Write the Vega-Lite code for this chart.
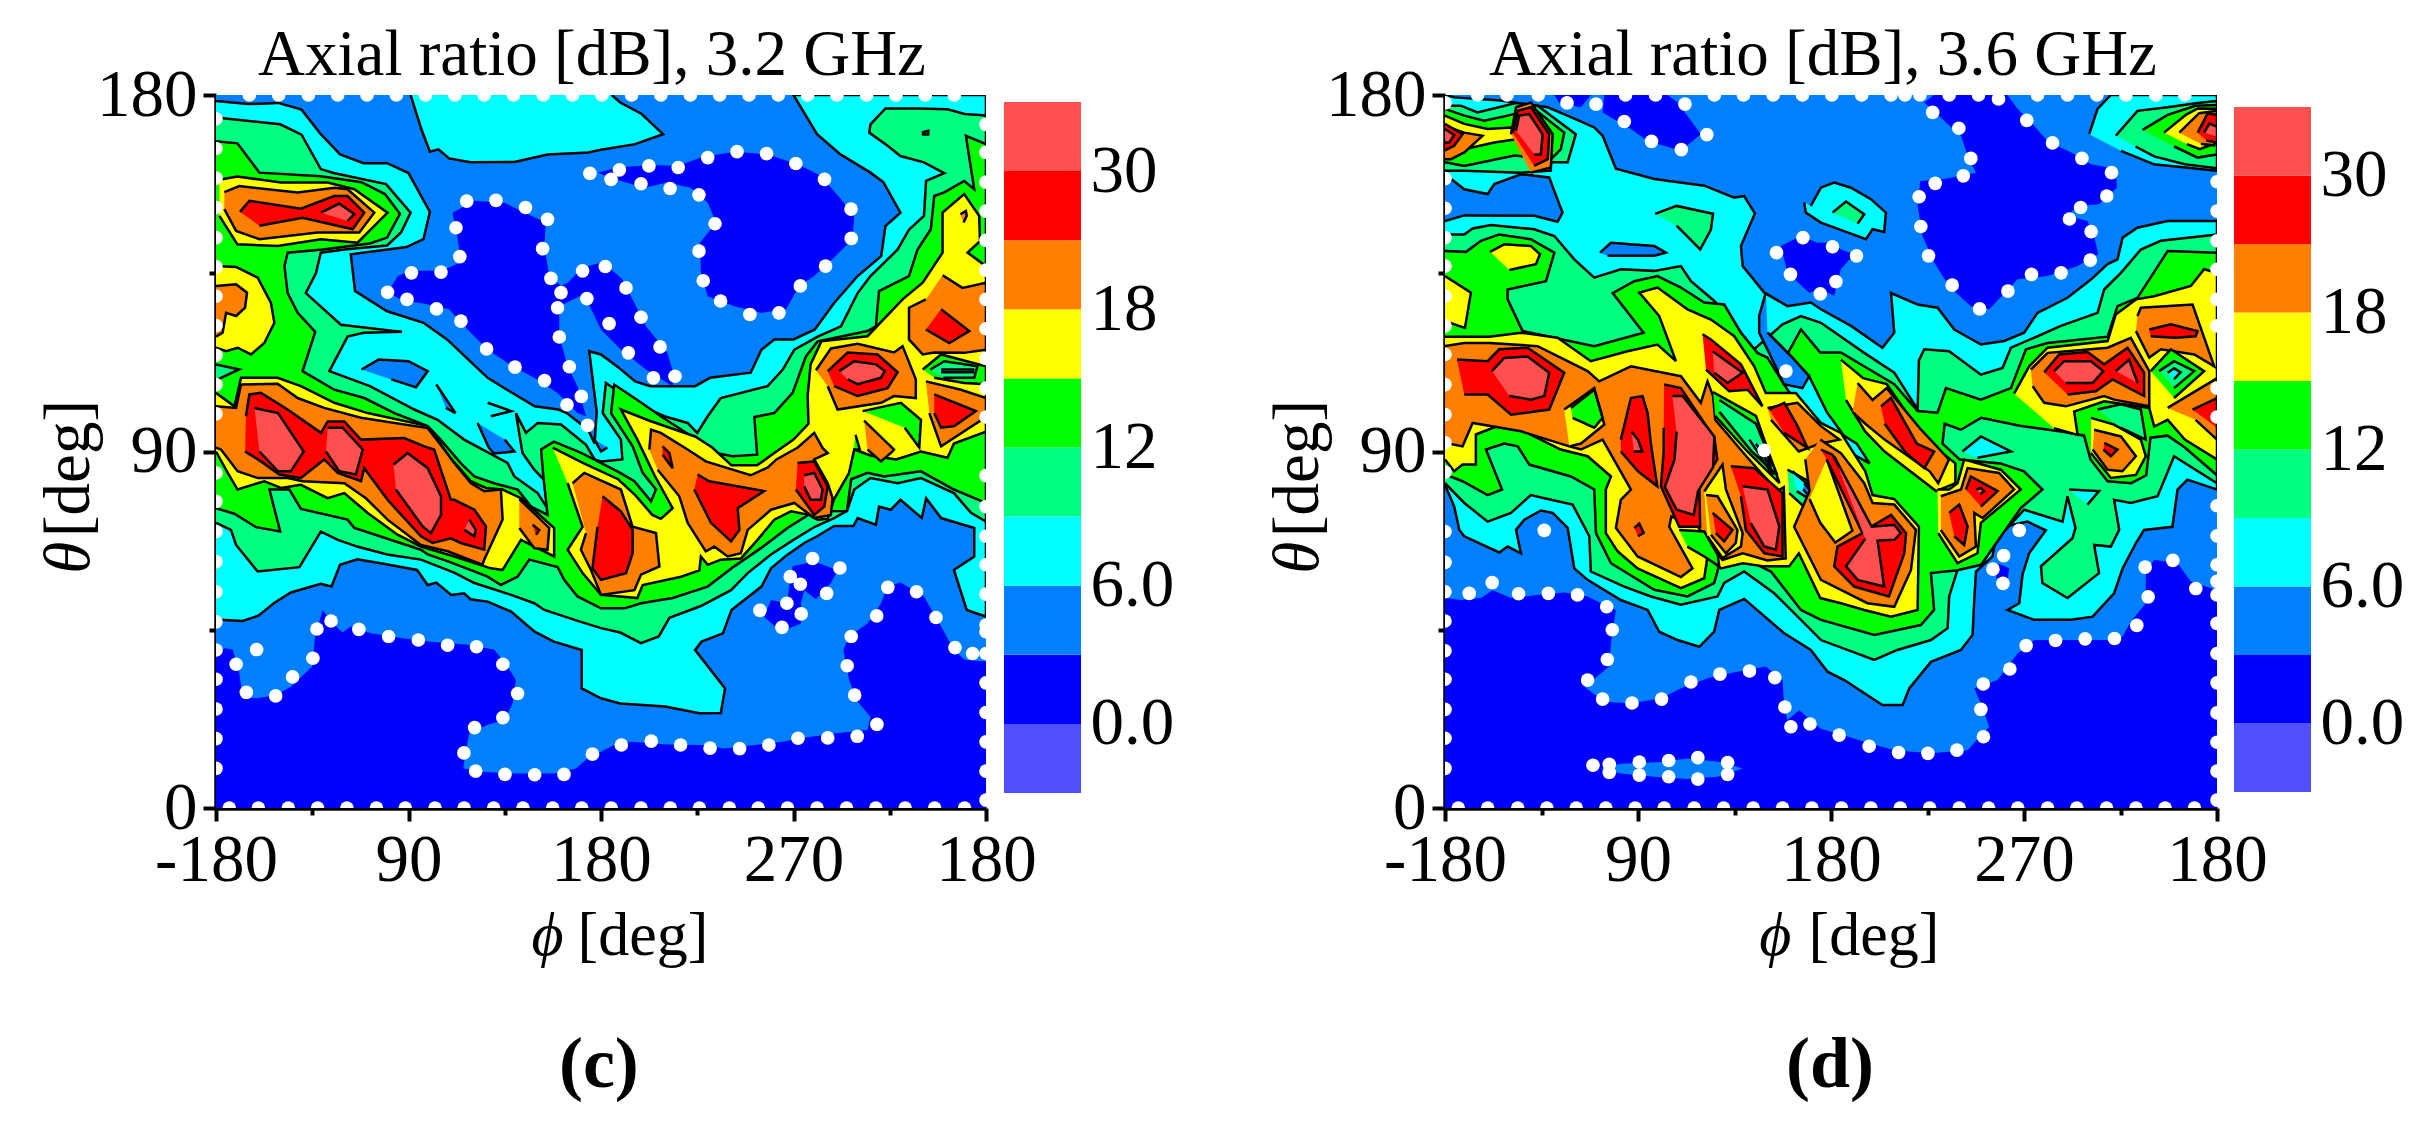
{"$schema":"https://vega.github.io/schema/vega-lite/v6.json","padding":{"left":36,"top":23,"right":0,"bottom":0},"background":"white","bounds":"flush","spacing":0,"config":{"view":{"stroke":null},"font":"Liberation Serif","axis":{"grid":false,"labelFont":"Liberation Serif","labelFontSize":67,"labelColor":"black","domainColor":"black","tickColor":"black","domainWidth":4.5,"tickWidth":4,"title":null,"labelFlush":false,"labelOverlap":false}},"datasets":{
"cb":[{"g":0,"l":2,"x":0,"y":0},{"g":0,"l":2,"x":360,"y":0},{"g":0,"l":2,"x":360,"y":180},{"g":0,"l":2,"x":0,"y":180},
{"g":1,"l":1,"x":0,"y":38.2},{"g":1,"l":1,"x":3.9,"y":40.3},{"g":1,"l":1,"x":7.8,"y":40},{"g":1,"l":1,"x":10.9,"y":34},{"g":1,"l":1,"x":12.5,"y":28},{"g":1,"l":1,"x":19.5,"y":27.7},{"g":1,"l":1,"x":28,"y":28.5},{"g":1,"l":1,"x":35,"y":30.6},{"g":1,"l":1,"x":45,"y":35.7},{"g":1,"l":1,"x":46.3,"y":43.3},{"g":1,"l":1,"x":49.9,"y":50},{"g":1,"l":1,"x":53.8,"y":47},{"g":1,"l":1,"x":59.2,"y":44.3},{"g":1,"l":1,"x":63,"y":45.8},{"g":1,"l":1,"x":72.4,"y":44.1},{"g":1,"l":1,"x":88,"y":42.8},{"g":1,"l":1,"x":100.5,"y":42},{"g":1,"l":1,"x":117.6,"y":41.2},{"g":1,"l":1,"x":130,"y":40},{"g":1,"l":1,"x":136.3,"y":35.7},{"g":1,"l":1,"x":140.2,"y":32.3},{"g":1,"l":1,"x":138.7,"y":26.4},{"g":1,"l":1,"x":134.8,"y":22.2},{"g":1,"l":1,"x":127,"y":21},{"g":1,"l":1,"x":118.4,"y":18.8},{"g":1,"l":1,"x":116.8,"y":14.6},{"g":1,"l":1,"x":115.6,"y":10},{"g":1,"l":1,"x":125.4,"y":9.1},{"g":1,"l":1,"x":139.4,"y":8.7},{"g":1,"l":1,"x":158.1,"y":8.7},{"g":1,"l":1,"x":168.3,"y":10},{"g":1,"l":1,"x":173.7,"y":12.5},{"g":1,"l":1,"x":186.2,"y":15.9},{"g":1,"l":1,"x":194,"y":16.7},{"g":1,"l":1,"x":211,"y":16},{"g":1,"l":1,"x":226.7,"y":15.9},{"g":1,"l":1,"x":237.6,"y":15},{"g":1,"l":1,"x":251.7,"y":15.9},{"g":1,"l":1,"x":265,"y":16.7},{"g":1,"l":1,"x":273.5,"y":17.6},{"g":1,"l":1,"x":289,"y":18.8},{"g":1,"l":1,"x":304.6,"y":19.7},{"g":1,"l":1,"x":306,"y":23},{"g":1,"l":1,"x":300,"y":26.8},{"g":1,"l":1,"x":296,"y":32.3},{"g":1,"l":1,"x":293.3,"y":39.9},{"g":1,"l":1,"x":296,"y":43.3},{"g":1,"l":1,"x":304.6,"y":46.6},{"g":1,"l":1,"x":310.9,"y":51.7},{"g":1,"l":1,"x":314,"y":55.9},{"g":1,"l":1,"x":320,"y":56.9},{"g":1,"l":1,"x":331,"y":53.4},{"g":1,"l":1,"x":339,"y":45.8},{"g":1,"l":1,"x":345,"y":39.9},{"g":1,"l":1,"x":350,"y":37.4},{"g":1,"l":1,"x":360,"y":37},{"g":1,"l":1,"x":360,"y":0},{"g":1,"l":1,"x":0,"y":0},
{"g":2,"l":1,"x":269.6,"y":61},{"g":2,"l":1,"x":279.7,"y":62.2},{"g":2,"l":1,"x":290.6,"y":60},{"g":2,"l":1,"x":287.5,"y":56.8},{"g":2,"l":1,"x":280.5,"y":52.7},{"g":2,"l":1,"x":275,"y":55},{"g":2,"l":1,"x":273.5,"y":51.7},{"g":2,"l":1,"x":273.5,"y":46.6},{"g":2,"l":1,"x":264,"y":44.5},{"g":2,"l":1,"x":256.3,"y":48.3},{"g":2,"l":1,"x":259.5,"y":52.5},{"g":2,"l":1,"x":267,"y":51.7},{"g":2,"l":1,"x":268,"y":55.9},
{"g":3,"l":1,"x":110.6,"y":150.3},{"g":3,"l":1,"x":120.7,"y":153.3},{"g":3,"l":1,"x":134.8,"y":152.8},{"g":3,"l":1,"x":142.6,"y":150.7},{"g":3,"l":1,"x":154.2,"y":147.8},{"g":3,"l":1,"x":153.5,"y":141.9},{"g":3,"l":1,"x":155.8,"y":134.3},{"g":3,"l":1,"x":161.3,"y":131.8},{"g":3,"l":1,"x":164.4,"y":132.6},{"g":3,"l":1,"x":171.4,"y":136.4},{"g":3,"l":1,"x":180,"y":137.7},{"g":3,"l":1,"x":184.7,"y":136},{"g":3,"l":1,"x":190,"y":133.5},{"g":3,"l":1,"x":195.6,"y":127.5},{"g":3,"l":1,"x":201,"y":121.6},{"g":3,"l":1,"x":211,"y":114.9},{"g":3,"l":1,"x":214.3,"y":109},{"g":3,"l":1,"x":213.5,"y":106.5},{"g":3,"l":1,"x":201,"y":110.7},{"g":3,"l":1,"x":189.3,"y":115.7},{"g":3,"l":1,"x":180,"y":120.8},{"g":3,"l":1,"x":172,"y":129.7},{"g":3,"l":1,"x":160.5,"y":126.7},{"g":3,"l":1,"x":160.5,"y":119.1},{"g":3,"l":1,"x":164.4,"y":111.5},{"g":3,"l":1,"x":169,"y":106.5},{"g":3,"l":1,"x":173,"y":98.9},{"g":3,"l":1,"x":169,"y":99.7},{"g":3,"l":1,"x":159.7,"y":104.8},{"g":3,"l":1,"x":148.8,"y":108.6},{"g":3,"l":1,"x":138.7,"y":111.5},{"g":3,"l":1,"x":127,"y":115.7},{"g":3,"l":1,"x":117.6,"y":120.8},{"g":3,"l":1,"x":109,"y":125.9},{"g":3,"l":1,"x":95.8,"y":127.5},{"g":3,"l":1,"x":88,"y":128},{"g":3,"l":1,"x":80.2,"y":130.1},{"g":3,"l":1,"x":85,"y":134.3},{"g":3,"l":1,"x":91.2,"y":135.6},{"g":3,"l":1,"x":105.2,"y":135.6},{"g":3,"l":1,"x":114.5,"y":137.7},{"g":3,"l":1,"x":113,"y":143.6},
{"g":4,"l":1,"x":178.4,"y":160.4},{"g":4,"l":1,"x":187.8,"y":161.7},{"g":4,"l":1,"x":203.4,"y":162.3},{"g":4,"l":1,"x":215.8,"y":162.1},{"g":4,"l":1,"x":226.7,"y":164.2},{"g":4,"l":1,"x":242.3,"y":165.7},{"g":4,"l":1,"x":257.9,"y":165},{"g":4,"l":1,"x":271.9,"y":162.5},{"g":4,"l":1,"x":282.8,"y":159.6},{"g":4,"l":1,"x":292.2,"y":153.7},{"g":4,"l":1,"x":298.4,"y":149.5},{"g":4,"l":1,"x":297.6,"y":143.6},{"g":4,"l":1,"x":289,"y":139},{"g":4,"l":1,"x":279.7,"y":134.3},{"g":4,"l":1,"x":272.7,"y":131.8},{"g":4,"l":1,"x":266.5,"y":125.9},{"g":4,"l":1,"x":254.8,"y":125},{"g":4,"l":1,"x":242.3,"y":126.7},{"g":4,"l":1,"x":229.9,"y":129.2},{"g":4,"l":1,"x":226.7,"y":135.1},{"g":4,"l":1,"x":226.3,"y":142.7},{"g":4,"l":1,"x":233.8,"y":147.8},{"g":4,"l":1,"x":229.9,"y":152.8},{"g":4,"l":1,"x":222,"y":156.6},{"g":4,"l":1,"x":211,"y":157.9},{"g":4,"l":1,"x":200.3,"y":156.6},{"g":4,"l":1,"x":189.3,"y":158.3}],
"cs":[{"g":1,"l":3,"x":0,"y":178.5},{"g":1,"l":3,"x":15,"y":177.7},{"g":1,"l":3,"x":29,"y":178},{"g":1,"l":3,"x":40,"y":176.3},{"g":1,"l":3,"x":49,"y":170.1},{"g":1,"l":3,"x":58,"y":165},{"g":1,"l":3,"x":69,"y":162.8},{"g":1,"l":3,"x":80,"y":162.8},{"g":1,"l":3,"x":90,"y":160.3},{"g":1,"l":3,"x":100,"y":150.5},{"g":1,"l":3,"x":97,"y":143.6},{"g":1,"l":3,"x":89,"y":141.6},{"g":1,"l":3,"x":63,"y":139.8},{"g":1,"l":3,"x":65,"y":130.5},{"g":1,"l":3,"x":80,"y":125.4},{"g":1,"l":3,"x":97,"y":122.5},{"g":1,"l":3,"x":108,"y":118.3},{"g":1,"l":3,"x":118,"y":113.2},{"g":1,"l":3,"x":127,"y":108.6},{"g":1,"l":3,"x":136,"y":105.6},{"g":1,"l":3,"x":149,"y":101.4},{"g":1,"l":3,"x":160,"y":100.6},{"g":1,"l":3,"x":164,"y":99.7},{"g":1,"l":3,"x":174,"y":95.5},{"g":1,"l":3,"x":177,"y":92},{"g":1,"l":3,"x":178,"y":100},{"g":1,"l":3,"x":174.5,"y":115.3},{"g":1,"l":3,"x":180,"y":114.5},{"g":1,"l":3,"x":188,"y":111.3},{"g":1,"l":3,"x":196,"y":107.7},{"g":1,"l":3,"x":203,"y":106.5},{"g":1,"l":3,"x":213,"y":106.5},{"g":1,"l":3,"x":224,"y":106.5},{"g":1,"l":3,"x":231,"y":108.6},{"g":1,"l":3,"x":250,"y":109.9},{"g":1,"l":3,"x":255,"y":115.7},{"g":1,"l":3,"x":261,"y":118.3},{"g":1,"l":3,"x":270,"y":118.3},{"g":1,"l":3,"x":280,"y":120.8},{"g":1,"l":3,"x":289,"y":127.5},{"g":1,"l":3,"x":300,"y":134.3},{"g":1,"l":3,"x":311,"y":139.3},{"g":1,"l":3,"x":313,"y":146.9},{"g":1,"l":3,"x":320,"y":150.3},{"g":1,"l":3,"x":312,"y":158},{"g":1,"l":3,"x":306,"y":160.4},{"g":1,"l":3,"x":292,"y":165},{"g":1,"l":3,"x":281,"y":170.1},{"g":1,"l":3,"x":270,"y":180},{"g":1,"l":3,"x":360,"y":180},{"g":1,"l":3,"x":360,"y":48.3},{"g":1,"l":3,"x":351,"y":50},{"g":1,"l":3,"x":345,"y":60.1},{"g":1,"l":3,"x":354.5,"y":63.5},{"g":1,"l":3,"x":354.5,"y":70.7},{"g":1,"l":3,"x":339,"y":73.2},{"g":1,"l":3,"x":332,"y":78.2},{"g":1,"l":3,"x":330,"y":73.2},{"g":1,"l":3,"x":320,"y":77.8},{"g":1,"l":3,"x":315.5,"y":75.3},{"g":1,"l":3,"x":310,"y":76.1},{"g":1,"l":3,"x":308.5,"y":71.5},{"g":1,"l":3,"x":300,"y":73.2},{"g":1,"l":3,"x":298,"y":71.2},{"g":1,"l":3,"x":289,"y":71.2},{"g":1,"l":3,"x":281,"y":68.6},{"g":1,"l":3,"x":275,"y":66.9},{"g":1,"l":3,"x":267,"y":63.9},{"g":1,"l":3,"x":259.5,"y":60.5},{"g":1,"l":3,"x":255,"y":55.9},{"g":1,"l":3,"x":241,"y":50},{"g":1,"l":3,"x":237,"y":44.1},{"g":1,"l":3,"x":227,"y":42},{"g":1,"l":3,"x":224,"y":39.9},{"g":1,"l":3,"x":238,"y":30.2},{"g":1,"l":3,"x":236,"y":24},{"g":1,"l":3,"x":226,"y":23.9},{"g":1,"l":3,"x":210,"y":25.6},{"g":1,"l":3,"x":189,"y":26.4},{"g":1,"l":3,"x":180,"y":27.7},{"g":1,"l":3,"x":171,"y":30.2},{"g":1,"l":3,"x":171,"y":39.9},{"g":1,"l":3,"x":158,"y":42},{"g":1,"l":3,"x":149,"y":44.5},{"g":1,"l":3,"x":138,"y":49.6},{"g":1,"l":3,"x":127,"y":52.1},{"g":1,"l":3,"x":119,"y":52.7},{"g":1,"l":3,"x":116,"y":54.2},{"g":1,"l":3,"x":110,"y":53.8},{"g":1,"l":3,"x":103,"y":56.9},{"g":1,"l":3,"x":99,"y":56.3},{"g":1,"l":3,"x":94,"y":60.1},{"g":1,"l":3,"x":79,"y":61.6},{"g":1,"l":3,"x":66,"y":62.8},{"g":1,"l":3,"x":58,"y":61.4},{"g":1,"l":3,"x":54,"y":55.9},{"g":1,"l":3,"x":49,"y":56.6},{"g":1,"l":3,"x":35,"y":54.4},{"g":1,"l":3,"x":27,"y":51.7},{"g":1,"l":3,"x":20,"y":48.6},{"g":1,"l":3,"x":12.5,"y":47.2},{"g":1,"l":3,"x":0,"y":47.6},
{"g":2,"l":3,"x":91,"y":180},{"g":2,"l":3,"x":96,"y":171.4},{"g":2,"l":3,"x":100,"y":165.7},{"g":2,"l":3,"x":104,"y":166.3},{"g":2,"l":3,"x":109,"y":164},{"g":2,"l":3,"x":119,"y":163},{"g":2,"l":3,"x":139.5,"y":163.1},{"g":2,"l":3,"x":155,"y":165},{"g":2,"l":3,"x":174,"y":165.5},{"g":2,"l":3,"x":180,"y":166.2},{"g":2,"l":3,"x":196,"y":167.6},{"g":2,"l":3,"x":209,"y":170.1},{"g":2,"l":3,"x":199,"y":175.2},{"g":2,"l":3,"x":189,"y":178.1},{"g":2,"l":3,"x":185,"y":180},
{"g":3,"l":2,"x":68,"y":110.7},{"g":3,"l":2,"x":76,"y":113.2},{"g":3,"l":2,"x":90,"y":112.8},{"g":3,"l":2,"x":99,"y":110.3},{"g":3,"l":2,"x":93.5,"y":106.2},{"g":3,"l":2,"x":82,"y":108.2},
{"g":4,"l":2,"x":103,"y":106.9},{"g":4,"l":2,"x":112,"y":99.7},{"g":4,"l":2,"x":107.5,"y":101},
{"g":5,"l":2,"x":122.3,"y":97.2},{"g":5,"l":2,"x":127.5,"y":91},{"g":5,"l":2,"x":130,"y":89.5},{"g":5,"l":2,"x":139.5,"y":90},{"g":5,"l":2,"x":135,"y":93},
{"g":6,"l":2,"x":177,"y":93},{"g":6,"l":2,"x":180,"y":90},{"g":6,"l":2,"x":183,"y":91},
{"g":7,"l":4,"x":0,"y":174.3},{"g":7,"l":4,"x":30,"y":172.6},{"g":7,"l":4,"x":40,"y":170},{"g":7,"l":4,"x":49,"y":161.3},{"g":7,"l":4,"x":55,"y":160.3},{"g":7,"l":4,"x":79.5,"y":157.5},{"g":7,"l":4,"x":91,"y":150.3},{"g":7,"l":4,"x":86.5,"y":145.3},{"g":7,"l":4,"x":80,"y":142},{"g":7,"l":4,"x":60,"y":141},{"g":7,"l":4,"x":49,"y":140.2},{"g":7,"l":4,"x":46.7,"y":135},{"g":7,"l":4,"x":42,"y":130},{"g":7,"l":4,"x":58.4,"y":122},{"g":7,"l":4,"x":87,"y":120.2},{"g":7,"l":4,"x":69,"y":120},{"g":7,"l":4,"x":61.5,"y":119},{"g":7,"l":4,"x":53,"y":110.3},{"g":7,"l":4,"x":72,"y":106.5},{"g":7,"l":4,"x":92.7,"y":100.6},{"g":7,"l":4,"x":103.6,"y":98},{"g":7,"l":4,"x":116,"y":93},{"g":7,"l":4,"x":136.3,"y":87.1},{"g":7,"l":4,"x":139.5,"y":83.7},{"g":7,"l":4,"x":150.4,"y":79.5},{"g":7,"l":4,"x":153.8,"y":76.6},{"g":7,"l":4,"x":157.8,"y":80.4},{"g":7,"l":4,"x":148.8,"y":85.4},{"g":7,"l":4,"x":143.3,"y":89.6},{"g":7,"l":4,"x":140.2,"y":99.7},{"g":7,"l":4,"x":144.9,"y":94.7},{"g":7,"l":4,"x":150.4,"y":97.2},{"g":7,"l":4,"x":161.3,"y":96.8},{"g":7,"l":4,"x":173,"y":91.7},{"g":7,"l":4,"x":177,"y":88},{"g":7,"l":4,"x":180,"y":87.5},{"g":7,"l":4,"x":190,"y":88},{"g":7,"l":4,"x":189.3,"y":93},{"g":7,"l":4,"x":180.8,"y":99.7},{"g":7,"l":4,"x":182.3,"y":107.3},{"g":7,"l":4,"x":195.6,"y":102.3},{"g":7,"l":4,"x":209.6,"y":98.9},{"g":7,"l":4,"x":220.5,"y":97.2},{"g":7,"l":4,"x":225,"y":94.7},{"g":7,"l":4,"x":229.9,"y":98.9},{"g":7,"l":4,"x":236,"y":103.5},{"g":7,"l":4,"x":257.9,"y":106.5},{"g":7,"l":4,"x":265,"y":110.7},{"g":7,"l":4,"x":270.4,"y":115.7},{"g":7,"l":4,"x":281.3,"y":119},{"g":7,"l":4,"x":292.2,"y":121.6},{"g":7,"l":4,"x":300,"y":130},{"g":7,"l":4,"x":306,"y":134.3},{"g":7,"l":4,"x":318.7,"y":141},{"g":7,"l":4,"x":324,"y":146},{"g":7,"l":4,"x":331,"y":149.5},{"g":7,"l":4,"x":332,"y":158.3},{"g":7,"l":4,"x":340.5,"y":160.3},{"g":7,"l":4,"x":331,"y":163},{"g":7,"l":4,"x":320,"y":164.6},{"g":7,"l":4,"x":314,"y":167.2},{"g":7,"l":4,"x":305.4,"y":170.5},{"g":7,"l":4,"x":306,"y":172.6},{"g":7,"l":4,"x":313,"y":176.6},{"g":7,"l":4,"x":328,"y":176.6},{"g":7,"l":4,"x":342,"y":176.4},{"g":7,"l":4,"x":350,"y":175.2},{"g":7,"l":4,"x":360,"y":174.8},{"g":7,"l":4,"x":360,"y":72.3},{"g":7,"l":4,"x":353,"y":74.5},{"g":7,"l":4,"x":345,"y":79.5},{"g":7,"l":4,"x":329.6,"y":83.3},{"g":7,"l":4,"x":318.7,"y":82},{"g":7,"l":4,"x":306,"y":83.3},{"g":7,"l":4,"x":298.4,"y":80.4},{"g":7,"l":4,"x":295,"y":75},{"g":7,"l":4,"x":289,"y":73.2},{"g":7,"l":4,"x":280,"y":71},{"g":7,"l":4,"x":270,"y":67.7},{"g":7,"l":4,"x":259.5,"y":64},{"g":7,"l":4,"x":248.6,"y":59.3},{"g":7,"l":4,"x":240.8,"y":55},{"g":7,"l":4,"x":226.7,"y":51},{"g":7,"l":4,"x":212,"y":48},{"g":7,"l":4,"x":207,"y":43.3},{"g":7,"l":4,"x":198.7,"y":41.6},{"g":7,"l":4,"x":189,"y":44.3},{"g":7,"l":4,"x":180,"y":45.4},{"g":7,"l":4,"x":170.6,"y":47},{"g":7,"l":4,"x":153.5,"y":50},{"g":7,"l":4,"x":148.8,"y":51.7},{"g":7,"l":4,"x":138,"y":53.8},{"g":7,"l":4,"x":120.8,"y":56.8},{"g":7,"l":4,"x":111.4,"y":59.4},{"g":7,"l":4,"x":95.8,"y":62.7},{"g":7,"l":4,"x":80,"y":64},{"g":7,"l":4,"x":66,"y":66},{"g":7,"l":4,"x":57,"y":67.7},{"g":7,"l":4,"x":49,"y":69.8},{"g":7,"l":4,"x":39,"y":60.8},{"g":7,"l":4,"x":19.5,"y":59.7},{"g":7,"l":4,"x":9.4,"y":66.4},{"g":7,"l":4,"x":7,"y":70.2},{"g":7,"l":4,"x":0,"y":72},
{"g":8,"l":3,"x":127,"y":102.3},{"g":8,"l":3,"x":138,"y":100.2},{"g":8,"l":3,"x":128.5,"y":98.9},
{"g":9,"l":5,"x":0,"y":168.3},{"g":9,"l":5,"x":10,"y":167.8},{"g":9,"l":5,"x":20.3,"y":160.4},{"g":9,"l":5,"x":49,"y":159.5},{"g":9,"l":5,"x":68,"y":158},{"g":9,"l":5,"x":79,"y":155},{"g":9,"l":5,"x":86,"y":150},{"g":9,"l":5,"x":80,"y":144},{"g":9,"l":5,"x":72,"y":142.5},{"g":9,"l":5,"x":50,"y":141},{"g":9,"l":5,"x":33.5,"y":140.2},{"g":9,"l":5,"x":32,"y":136.8},{"g":9,"l":5,"x":33.5,"y":130},{"g":9,"l":5,"x":38.2,"y":125},{"g":9,"l":5,"x":46.4,"y":120.2},{"g":9,"l":5,"x":40.5,"y":110.3},{"g":9,"l":5,"x":55.3,"y":105.6},{"g":9,"l":5,"x":69.3,"y":103.5},{"g":9,"l":5,"x":83.4,"y":99.7},{"g":9,"l":5,"x":99,"y":96.4},{"g":9,"l":5,"x":105,"y":93},{"g":9,"l":5,"x":114.5,"y":87},{"g":9,"l":5,"x":120.8,"y":83.7},{"g":9,"l":5,"x":130,"y":82},{"g":9,"l":5,"x":141,"y":80.4},{"g":9,"l":5,"x":147.3,"y":76.1},{"g":9,"l":5,"x":155,"y":74},{"g":9,"l":5,"x":153,"y":84},{"g":9,"l":5,"x":152,"y":90.5},{"g":9,"l":5,"x":158,"y":92.5},{"g":9,"l":5,"x":171,"y":89.6},{"g":9,"l":5,"x":189,"y":84.6},{"g":9,"l":5,"x":195.6,"y":82.5},{"g":9,"l":5,"x":203.4,"y":77.4},{"g":9,"l":5,"x":205.7,"y":80.4},{"g":9,"l":5,"x":199.5,"y":84.6},{"g":9,"l":5,"x":194.8,"y":91.3},{"g":9,"l":5,"x":184.7,"y":99.7},{"g":9,"l":5,"x":186.2,"y":106.9},{"g":9,"l":5,"x":197,"y":103},{"g":9,"l":5,"x":209,"y":98.5},{"g":9,"l":5,"x":222,"y":94},{"g":9,"l":5,"x":230,"y":90},{"g":9,"l":5,"x":241.5,"y":88.8},{"g":9,"l":5,"x":253,"y":89.2},{"g":9,"l":5,"x":251.7,"y":98.7},{"g":9,"l":5,"x":261,"y":99.7},{"g":9,"l":5,"x":269.6,"y":104.8},{"g":9,"l":5,"x":275.8,"y":114},{"g":9,"l":5,"x":281.3,"y":117.8},{"g":9,"l":5,"x":304.6,"y":120.4},{"g":9,"l":5,"x":308.5,"y":121.6},{"g":9,"l":5,"x":310,"y":130.5},{"g":9,"l":5,"x":324,"y":134.3},{"g":9,"l":5,"x":328,"y":141},{"g":9,"l":5,"x":334.2,"y":146.1},{"g":9,"l":5,"x":335.8,"y":154.5},{"g":9,"l":5,"x":340.5,"y":155.4},{"g":9,"l":5,"x":349.8,"y":158.3},{"g":9,"l":5,"x":354.5,"y":156.2},{"g":9,"l":5,"x":350.6,"y":169.7},{"g":9,"l":5,"x":360,"y":167.6},{"g":9,"l":5,"x":360,"y":77},{"g":9,"l":5,"x":345,"y":80.4},{"g":9,"l":5,"x":329.6,"y":85},{"g":9,"l":5,"x":312.4,"y":83.7},{"g":9,"l":5,"x":304.6,"y":84.6},{"g":9,"l":5,"x":297,"y":83},{"g":9,"l":5,"x":295,"y":75},{"g":9,"l":5,"x":279.7,"y":74.9},{"g":9,"l":5,"x":267.2,"y":70.7},{"g":9,"l":5,"x":254.8,"y":65.6},{"g":9,"l":5,"x":242.3,"y":61},{"g":9,"l":5,"x":229.9,"y":55.9},{"g":9,"l":5,"x":213.5,"y":53},{"g":9,"l":5,"x":198.7,"y":51.7},{"g":9,"l":5,"x":191,"y":50.4},{"g":9,"l":5,"x":180,"y":50.4},{"g":9,"l":5,"x":169,"y":53.4},{"g":9,"l":5,"x":162.8,"y":57.6},{"g":9,"l":5,"x":159.7,"y":60.8},{"g":9,"l":5,"x":146.5,"y":62.7},{"g":9,"l":5,"x":141,"y":58.4},{"g":9,"l":5,"x":133.2,"y":56.3},{"g":9,"l":5,"x":127,"y":58.4},{"g":9,"l":5,"x":109.8,"y":62},{"g":9,"l":5,"x":99,"y":64},{"g":9,"l":5,"x":95.8,"y":65.2},{"g":9,"l":5,"x":64.7,"y":70.7},{"g":9,"l":5,"x":61.5,"y":72.8},{"g":9,"l":5,"x":39.7,"y":75.5},{"g":9,"l":5,"x":34.3,"y":80.4},{"g":9,"l":5,"x":25,"y":80.4},{"g":9,"l":5,"x":30,"y":69.8},{"g":9,"l":5,"x":18.7,"y":70.9},{"g":9,"l":5,"x":8.6,"y":74.3},{"g":9,"l":5,"x":0,"y":75.7},
{"g":10,"l":4,"x":0,"y":112},{"g":10,"l":4,"x":10.9,"y":110.7},{"g":10,"l":4,"x":0,"y":108},
{"g":11,"l":6,"x":1.6,"y":158.6},{"g":11,"l":6,"x":10,"y":159.4},{"g":11,"l":6,"x":30.4,"y":157.9},{"g":11,"l":6,"x":52.2,"y":157.9},{"g":11,"l":6,"x":64.7,"y":156.2},{"g":11,"l":6,"x":80.2,"y":150.3},{"g":11,"l":6,"x":72.4,"y":146.1},{"g":11,"l":6,"x":66.2,"y":142.7},{"g":11,"l":6,"x":49,"y":143.6},{"g":11,"l":6,"x":28.8,"y":141.9},{"g":11,"l":6,"x":10,"y":142.3},{"g":11,"l":6,"x":1.6,"y":149.5},
{"g":12,"l":7,"x":3.9,"y":155.5},{"g":12,"l":7,"x":10.9,"y":157},{"g":12,"l":7,"x":38.2,"y":155.4},{"g":12,"l":7,"x":55.3,"y":156.6},{"g":12,"l":7,"x":61.5,"y":156.2},{"g":12,"l":7,"x":74,"y":150.3},{"g":12,"l":7,"x":67,"y":145.3},{"g":12,"l":7,"x":47.5,"y":145.3},{"g":12,"l":7,"x":20.3,"y":143.6},{"g":12,"l":7,"x":9.4,"y":145.7},{"g":12,"l":7,"x":3.9,"y":151.2},
{"g":13,"l":8,"x":11.2,"y":150.5},{"g":13,"l":8,"x":15.6,"y":153.3},{"g":13,"l":8,"x":39.7,"y":151.3},{"g":13,"l":8,"x":55.3,"y":154.5},{"g":13,"l":8,"x":61.5,"y":154.5},{"g":13,"l":8,"x":69.3,"y":150.3},{"g":13,"l":8,"x":63.9,"y":146.1},{"g":13,"l":8,"x":40.5,"y":149},{"g":13,"l":8,"x":20.3,"y":147},
{"g":14,"l":9,"x":49.1,"y":150.3},{"g":14,"l":9,"x":57.6,"y":152.6},{"g":14,"l":9,"x":64.7,"y":149.9},{"g":14,"l":9,"x":61.5,"y":148.2},
{"g":15,"l":6,"x":0,"y":136.8},{"g":15,"l":6,"x":9.4,"y":136.6},{"g":15,"l":6,"x":19.5,"y":133.9},{"g":15,"l":6,"x":25.7,"y":127.5},{"g":15,"l":6,"x":27.3,"y":122.5},{"g":15,"l":6,"x":22.6,"y":117.4},{"g":15,"l":6,"x":16.4,"y":114.5},{"g":15,"l":6,"x":10.1,"y":116.2},{"g":15,"l":6,"x":4.7,"y":115.3},{"g":15,"l":6,"x":0,"y":116.2},
{"g":16,"l":7,"x":0,"y":131.8},{"g":16,"l":7,"x":9.4,"y":132.2},{"g":16,"l":7,"x":14.5,"y":130.1},{"g":16,"l":7,"x":13.6,"y":126.3},{"g":16,"l":7,"x":9.4,"y":124.2},{"g":16,"l":7,"x":4.7,"y":125},{"g":16,"l":7,"x":3.1,"y":120},{"g":16,"l":7,"x":0,"y":119},
{"g":17,"l":6,"x":0,"y":104.8},{"g":17,"l":6,"x":8.6,"y":101.4},{"g":17,"l":6,"x":11.7,"y":108.6},{"g":17,"l":6,"x":28.8,"y":108.6},{"g":17,"l":6,"x":39.7,"y":106.5},{"g":17,"l":6,"x":55.3,"y":102.3},{"g":17,"l":6,"x":70.9,"y":99.7},{"g":17,"l":6,"x":95.8,"y":96.8},{"g":17,"l":6,"x":103.6,"y":93},{"g":17,"l":6,"x":109,"y":88.8},{"g":17,"l":6,"x":119.2,"y":82.5},{"g":17,"l":6,"x":126.2,"y":80.8},{"g":17,"l":6,"x":134,"y":80.4},{"g":17,"l":6,"x":142.6,"y":78.2},{"g":17,"l":6,"x":158.1,"y":70.7},{"g":17,"l":6,"x":158.1,"y":63.5},{"g":17,"l":6,"x":142.6,"y":67.7},{"g":17,"l":6,"x":134,"y":60.1},{"g":17,"l":6,"x":128.5,"y":60.5},{"g":17,"l":6,"x":111.4,"y":63.5},{"g":17,"l":6,"x":95.8,"y":66},{"g":17,"l":6,"x":84.9,"y":69},{"g":17,"l":6,"x":70.9,"y":74.5},{"g":17,"l":6,"x":60,"y":79.5},{"g":17,"l":6,"x":52.2,"y":78.2},{"g":17,"l":6,"x":39.7,"y":81.6},{"g":17,"l":6,"x":30.4,"y":80.8},{"g":17,"l":6,"x":22.6,"y":82.5},{"g":17,"l":6,"x":10.1,"y":80.4},{"g":17,"l":6,"x":5.5,"y":84.6},{"g":17,"l":6,"x":0,"y":90},
{"g":18,"l":7,"x":0,"y":101.4},{"g":18,"l":7,"x":9.4,"y":101},{"g":18,"l":7,"x":11.7,"y":106.9},{"g":18,"l":7,"x":28.8,"y":107.1},{"g":18,"l":7,"x":38.2,"y":103.5},{"g":18,"l":7,"x":50.6,"y":101},{"g":18,"l":7,"x":67.8,"y":98.5},{"g":18,"l":7,"x":99,"y":95.9},{"g":18,"l":7,"x":106.7,"y":90.5},{"g":18,"l":7,"x":111.4,"y":87.1},{"g":18,"l":7,"x":119.2,"y":82},{"g":18,"l":7,"x":125.4,"y":80},{"g":18,"l":7,"x":133.2,"y":80.4},{"g":18,"l":7,"x":134,"y":72.8},{"g":18,"l":7,"x":125.4,"y":62.7},{"g":18,"l":7,"x":124.6,"y":61.4},{"g":18,"l":7,"x":108.3,"y":64.8},{"g":18,"l":7,"x":95.8,"y":66.4},{"g":18,"l":7,"x":80.2,"y":72.8},{"g":18,"l":7,"x":70.1,"y":78.2},{"g":18,"l":7,"x":60,"y":82},{"g":18,"l":7,"x":40.5,"y":82.5},{"g":18,"l":7,"x":33.5,"y":83.3},{"g":18,"l":7,"x":19.5,"y":83.3},{"g":18,"l":7,"x":10.1,"y":85},{"g":18,"l":7,"x":2.3,"y":90.5},{"g":18,"l":7,"x":0,"y":91},
{"g":19,"l":8,"x":14,"y":98.9},{"g":19,"l":8,"x":15.6,"y":104.4},{"g":19,"l":8,"x":21,"y":104.8},{"g":19,"l":8,"x":33.5,"y":100.6},{"g":19,"l":8,"x":49.1,"y":94.7},{"g":19,"l":8,"x":52.2,"y":97.6},{"g":19,"l":8,"x":60,"y":97.6},{"g":19,"l":8,"x":67.8,"y":93},{"g":19,"l":8,"x":88,"y":93.4},{"g":19,"l":8,"x":97.4,"y":91.3},{"g":19,"l":8,"x":102,"y":90.5},{"g":19,"l":8,"x":109.8,"y":77.8},{"g":19,"l":8,"x":111.4,"y":77.8},{"g":19,"l":8,"x":120.8,"y":75.3},{"g":19,"l":8,"x":126.2,"y":71.1},{"g":19,"l":8,"x":125.4,"y":65.2},{"g":19,"l":8,"x":114.5,"y":66.9},{"g":19,"l":8,"x":109.8,"y":68.1},{"g":19,"l":8,"x":101.3,"y":66.9},{"g":19,"l":8,"x":95.8,"y":68.6},{"g":19,"l":8,"x":80.2,"y":77.8},{"g":19,"l":8,"x":69.3,"y":85.8},{"g":19,"l":8,"x":67.8,"y":82.5},{"g":19,"l":8,"x":56.9,"y":84.6},{"g":19,"l":8,"x":50.6,"y":88},{"g":19,"l":8,"x":39.7,"y":83.3},{"g":19,"l":8,"x":29.6,"y":84.2},{"g":19,"l":8,"x":21,"y":87.5},{"g":19,"l":8,"x":13.6,"y":90},
{"g":20,"l":9,"x":18,"y":101},{"g":20,"l":9,"x":29,"y":99.7},{"g":20,"l":9,"x":41,"y":90},{"g":20,"l":9,"x":35,"y":85},{"g":20,"l":9,"x":29,"y":85},{"g":20,"l":9,"x":20.3,"y":90},
{"g":21,"l":9,"x":52.2,"y":96},{"g":21,"l":9,"x":59.2,"y":96},{"g":21,"l":9,"x":68.6,"y":90.5},{"g":21,"l":9,"x":65.4,"y":84.2},{"g":21,"l":9,"x":57.6,"y":85},{"g":21,"l":9,"x":51.4,"y":90},
{"g":22,"l":9,"x":83,"y":86.7},{"g":22,"l":9,"x":89.6,"y":89.6},{"g":22,"l":9,"x":99,"y":85.8},{"g":22,"l":9,"x":105.2,"y":78.7},{"g":22,"l":9,"x":105.2,"y":74},{"g":22,"l":9,"x":100.5,"y":69.4},{"g":22,"l":9,"x":96.6,"y":71.1},{"g":22,"l":9,"x":84.1,"y":80.4},
{"g":23,"l":9,"x":118.4,"y":72.8},{"g":23,"l":9,"x":121.5,"y":70.2},{"g":23,"l":9,"x":120.8,"y":68.6},{"g":23,"l":9,"x":116,"y":70.2},
{"g":24,"l":7,"x":141.8,"y":78},{"g":24,"l":7,"x":155.8,"y":70.7},{"g":24,"l":7,"x":155,"y":65.2},{"g":24,"l":7,"x":148.8,"y":65.6},{"g":24,"l":7,"x":141.8,"y":70.7},
{"g":25,"l":8,"x":148,"y":71.5},{"g":25,"l":8,"x":151.1,"y":70.2},{"g":25,"l":8,"x":149.6,"y":69},
{"g":26,"l":6,"x":157.4,"y":91},{"g":26,"l":6,"x":172,"y":87},{"g":26,"l":6,"x":188,"y":83},{"g":26,"l":6,"x":196,"y":79},{"g":26,"l":6,"x":204,"y":74},{"g":26,"l":6,"x":208,"y":73},{"g":26,"l":6,"x":213.5,"y":75.7},{"g":26,"l":6,"x":205,"y":84},{"g":26,"l":6,"x":197,"y":93},{"g":26,"l":6,"x":189.3,"y":100.6},{"g":26,"l":6,"x":203,"y":97.7},{"g":26,"l":6,"x":224,"y":93.8},{"g":26,"l":6,"x":232,"y":91},{"g":26,"l":6,"x":241,"y":86.5},{"g":26,"l":6,"x":253,"y":86.5},{"g":26,"l":6,"x":262,"y":90},{"g":26,"l":6,"x":270,"y":93},{"g":26,"l":6,"x":277,"y":97},{"g":26,"l":6,"x":276.6,"y":104},{"g":26,"l":6,"x":278,"y":112},{"g":26,"l":6,"x":283,"y":117.8},{"g":26,"l":6,"x":304.6,"y":119.1},{"g":26,"l":6,"x":321,"y":128.4},{"g":26,"l":6,"x":330.4,"y":132.6},{"g":26,"l":6,"x":339.7,"y":140.2},{"g":26,"l":6,"x":339.7,"y":150.3},{"g":26,"l":6,"x":349.8,"y":155},{"g":26,"l":6,"x":356.8,"y":149.5},{"g":26,"l":6,"x":357.2,"y":143.1},{"g":26,"l":6,"x":351.4,"y":140.2},{"g":26,"l":6,"x":360,"y":136.8},{"g":26,"l":6,"x":360,"y":95},{"g":26,"l":6,"x":345,"y":92},{"g":26,"l":6,"x":342,"y":88.4},{"g":26,"l":6,"x":329.6,"y":90},{"g":26,"l":6,"x":318,"y":88},{"g":26,"l":6,"x":306,"y":89},{"g":26,"l":6,"x":298.4,"y":90.5},{"g":26,"l":6,"x":296,"y":84.6},{"g":26,"l":6,"x":289,"y":78},{"g":26,"l":6,"x":286,"y":73},{"g":26,"l":6,"x":281.3,"y":72.8},{"g":26,"l":6,"x":277.4,"y":74},{"g":26,"l":6,"x":268.8,"y":74.9},{"g":26,"l":6,"x":261,"y":72.8},{"g":26,"l":6,"x":253.2,"y":67.7},{"g":26,"l":6,"x":245.4,"y":63},{"g":26,"l":6,"x":236,"y":62.7},{"g":26,"l":6,"x":229.9,"y":61.4},{"g":26,"l":6,"x":226.7,"y":63.5},{"g":26,"l":6,"x":226,"y":60},{"g":26,"l":6,"x":217.4,"y":58.4},{"g":26,"l":6,"x":199.5,"y":56.3},{"g":26,"l":6,"x":197,"y":53},{"g":26,"l":6,"x":189,"y":53.4},{"g":26,"l":6,"x":180,"y":53.8},{"g":26,"l":6,"x":171.4,"y":59.3},{"g":26,"l":6,"x":164.4,"y":65.2},{"g":26,"l":6,"x":171.4,"y":71},{"g":26,"l":6,"x":164.4,"y":82},
{"g":27,"l":7,"x":166.7,"y":82},{"g":27,"l":7,"x":172.2,"y":84.6},{"g":27,"l":7,"x":189.3,"y":80.4},{"g":27,"l":7,"x":194.8,"y":71},{"g":27,"l":7,"x":205.7,"y":69.4},{"g":27,"l":7,"x":207.3,"y":61},{"g":27,"l":7,"x":198.7,"y":58.9},{"g":27,"l":7,"x":195.6,"y":55},{"g":27,"l":7,"x":180,"y":53.8},{"g":27,"l":7,"x":175.3,"y":60.1},{"g":27,"l":7,"x":170.6,"y":65.2},{"g":27,"l":7,"x":173,"y":69.4},
{"g":28,"l":8,"x":180.7,"y":78.7},{"g":28,"l":8,"x":189.3,"y":74.9},{"g":28,"l":8,"x":194.8,"y":70.2},{"g":28,"l":8,"x":194.8,"y":64.3},{"g":28,"l":8,"x":191.7,"y":59.3},{"g":28,"l":8,"x":180,"y":57.6},{"g":28,"l":8,"x":176,"y":60.5},{"g":28,"l":8,"x":178.4,"y":71},
{"g":29,"l":7,"x":202.6,"y":90.5},{"g":29,"l":7,"x":203.4,"y":95.5},{"g":29,"l":7,"x":208,"y":94.7},{"g":29,"l":7,"x":220.5,"y":90.5},{"g":29,"l":7,"x":229,"y":87.5},{"g":29,"l":7,"x":250,"y":84},{"g":29,"l":7,"x":258,"y":86},{"g":29,"l":7,"x":262,"y":88},{"g":29,"l":7,"x":272,"y":91},{"g":29,"l":7,"x":279.7,"y":94.7},{"g":29,"l":7,"x":283.6,"y":90.9},{"g":29,"l":7,"x":286,"y":89.6},{"g":29,"l":7,"x":279.7,"y":88},{"g":29,"l":7,"x":286,"y":82},{"g":29,"l":7,"x":288.3,"y":78.2},{"g":29,"l":7,"x":287.5,"y":74},{"g":29,"l":7,"x":279.7,"y":73.2},{"g":29,"l":7,"x":270.4,"y":77},{"g":29,"l":7,"x":259.5,"y":75.3},{"g":29,"l":7,"x":248.6,"y":70.2},{"g":29,"l":7,"x":245.4,"y":64.3},{"g":29,"l":7,"x":239.2,"y":63.5},{"g":29,"l":7,"x":233,"y":66},{"g":29,"l":7,"x":229,"y":64.8},{"g":29,"l":7,"x":220.5,"y":72},{"g":29,"l":7,"x":216.6,"y":78.7},{"g":29,"l":7,"x":206.5,"y":85.4},
{"g":30,"l":8,"x":225.2,"y":84.2},{"g":30,"l":8,"x":230.6,"y":82.5},{"g":30,"l":8,"x":256.3,"y":80},{"g":30,"l":8,"x":243.9,"y":75.7},{"g":30,"l":8,"x":244.7,"y":70.2},{"g":30,"l":8,"x":240.8,"y":67.3},{"g":30,"l":8,"x":231.4,"y":72},{"g":30,"l":8,"x":223.6,"y":80.4},
{"g":31,"l":8,"x":208.8,"y":91.3},{"g":31,"l":8,"x":212,"y":89.6},{"g":31,"l":8,"x":213.5,"y":85.8},{"g":31,"l":8,"x":208.8,"y":89.2},
{"g":32,"l":8,"x":271.9,"y":87.1},{"g":32,"l":8,"x":279.7,"y":87.5},{"g":32,"l":8,"x":286,"y":81.2},{"g":32,"l":8,"x":284.4,"y":76.1},{"g":32,"l":8,"x":279.7,"y":74},{"g":32,"l":8,"x":271.1,"y":80.4},
{"g":33,"l":9,"x":275,"y":84},{"g":33,"l":9,"x":279.7,"y":84.6},{"g":33,"l":9,"x":283.6,"y":80.4},{"g":33,"l":9,"x":282.8,"y":77.8},{"g":33,"l":9,"x":278,"y":77.8},{"g":33,"l":9,"x":275,"y":81.2},
{"g":34,"l":5,"x":302.3,"y":100.2},{"g":34,"l":5,"x":320.2,"y":102.3},{"g":34,"l":5,"x":329.6,"y":98},{"g":34,"l":5,"x":328.8,"y":91},{"g":34,"l":5,"x":322,"y":96},
{"g":35,"l":5,"x":299,"y":94.2},{"g":35,"l":5,"x":301,"y":90.5},{"g":35,"l":5,"x":298,"y":90.5},
{"g":36,"l":7,"x":339.7,"y":134.5},{"g":36,"l":7,"x":349,"y":131.3},{"g":36,"l":7,"x":360,"y":132.6},{"g":36,"l":7,"x":360,"y":115.7},{"g":36,"l":7,"x":349.8,"y":114.9},{"g":36,"l":7,"x":335.8,"y":115},{"g":36,"l":7,"x":330.4,"y":114.5},{"g":36,"l":7,"x":324,"y":118.3},{"g":36,"l":7,"x":324,"y":126.3},{"g":36,"l":7,"x":331.9,"y":128.4},
{"g":37,"l":8,"x":339,"y":125.9},{"g":37,"l":8,"x":352.2,"y":120.4},{"g":37,"l":8,"x":342.8,"y":117.4},{"g":37,"l":8,"x":331.9,"y":120.8},
{"g":38,"l":7,"x":348,"y":149.9},{"g":38,"l":7,"x":350.6,"y":150.7},{"g":38,"l":7,"x":351,"y":149.5},{"g":38,"l":7,"x":349.5,"y":147.8},
{"g":39,"l":5,"x":330.4,"y":110.7},{"g":39,"l":5,"x":339,"y":114.5},{"g":39,"l":5,"x":360,"y":111.5},{"g":39,"l":5,"x":360,"y":107},{"g":39,"l":5,"x":349.8,"y":107.3},{"g":39,"l":5,"x":335.8,"y":108.6},
{"g":40,"l":4,"x":334,"y":110.7},{"g":40,"l":4,"x":340.5,"y":112.8},{"g":40,"l":4,"x":356,"y":111.5},{"g":40,"l":4,"x":354.5,"y":108.6},{"g":40,"l":4,"x":340,"y":108.6},
{"g":41,"l":3,"x":339,"y":110.7},{"g":41,"l":3,"x":354,"y":110.7},{"g":41,"l":3,"x":354,"y":110},{"g":41,"l":3,"x":339,"y":110},
{"g":42,"l":7,"x":331.9,"y":107.7},{"g":42,"l":7,"x":348.3,"y":105.6},{"g":42,"l":7,"x":360,"y":103.5},{"g":42,"l":7,"x":360,"y":98.7},{"g":42,"l":7,"x":339,"y":91.3},{"g":42,"l":7,"x":333.5,"y":99.7},
{"g":43,"l":8,"x":335.8,"y":104.4},{"g":43,"l":8,"x":355.3,"y":100.2},{"g":43,"l":8,"x":345.2,"y":96.4},{"g":43,"l":8,"x":339,"y":96},{"g":43,"l":8,"x":335.8,"y":99.7},
{"g":44,"l":7,"x":303,"y":97.8},{"g":44,"l":7,"x":317,"y":90.5},{"g":44,"l":7,"x":316.3,"y":90},{"g":44,"l":7,"x":310.9,"y":87.5},{"g":44,"l":7,"x":304.6,"y":90.5},
{"g":45,"l":5,"x":330,"y":170.5},{"g":45,"l":5,"x":333,"y":171},{"g":45,"l":5,"x":333,"y":170},{"g":45,"l":5,"x":330,"y":170},
{"g":46,"l":7,"x":280.5,"y":110.5},{"g":46,"l":7,"x":287.5,"y":116},{"g":46,"l":7,"x":300,"y":117.2},{"g":46,"l":7,"x":317,"y":115},{"g":46,"l":7,"x":321,"y":116.6},{"g":46,"l":7,"x":327.2,"y":108.2},{"g":46,"l":7,"x":327.2,"y":103.5},{"g":46,"l":7,"x":317,"y":104},{"g":46,"l":7,"x":311,"y":102.3},{"g":46,"l":7,"x":290.6,"y":100.6},{"g":46,"l":7,"x":286,"y":106.5},
{"g":47,"l":8,"x":286,"y":110.3},{"g":47,"l":8,"x":295.3,"y":115},{"g":47,"l":8,"x":309.3,"y":114.5},{"g":47,"l":8,"x":318.7,"y":110},{"g":47,"l":8,"x":314,"y":106},{"g":47,"l":8,"x":300,"y":104},{"g":47,"l":8,"x":289,"y":106.5},
{"g":48,"l":9,"x":291.4,"y":110.3},{"g":48,"l":9,"x":298.4,"y":112.8},{"g":48,"l":9,"x":308.5,"y":112},{"g":48,"l":9,"x":312.7,"y":110.3},{"g":48,"l":9,"x":310.9,"y":108.6},{"g":48,"l":9,"x":300,"y":107},{"g":48,"l":9,"x":295.3,"y":108.2}],
"cp":[{"x":6.2,"y":0},{"x":19.8,"y":0},{"x":33.8,"y":0},{"x":47.5,"y":0},{"x":61.2,"y":0},{"x":75,"y":0},{"x":88.5,"y":0},{"x":102.4,"y":0},{"x":116,"y":0},{"x":129.8,"y":0},{"x":143.5,"y":0},{"x":157.4,"y":0},{"x":171,"y":0},{"x":184.8,"y":0},{"x":198.7,"y":0},{"x":212.4,"y":0},{"x":226,"y":0},{"x":240,"y":0},{"x":253.5,"y":0},{"x":267.2,"y":0},{"x":281,"y":0},{"x":294.8,"y":0},{"x":308.5,"y":0},{"x":322.2,"y":0},{"x":336,"y":0},{"x":350,"y":0},{"x":360,"y":2},
{"x":15.6,"y":180},{"x":29.3,"y":180},{"x":43.2,"y":180},{"x":56.9,"y":180},{"x":70.6,"y":180},{"x":84.3,"y":180},{"x":98,"y":180},{"x":111.7,"y":180},{"x":125.4,"y":180},{"x":139.1,"y":180},{"x":153,"y":180},{"x":166.7,"y":180},{"x":180.4,"y":180},{"x":194.3,"y":180},{"x":208,"y":180},{"x":221.8,"y":180},{"x":235.5,"y":180},{"x":249.2,"y":180},{"x":262.9,"y":180},{"x":276.6,"y":180},{"x":290.3,"y":180},{"x":304.2,"y":180},{"x":317.9,"y":180},{"x":331.6,"y":180},{"x":345.2,"y":180},
{"x":360,"y":172.6},{"x":360,"y":165.5},{"x":360,"y":158},{"x":360,"y":150.7},{"x":360,"y":143.3},{"x":360,"y":135.8},{"x":360,"y":128.4},{"x":360,"y":121},{"x":360,"y":113.5},{"x":360,"y":106},{"x":360,"y":98.7},{"x":360,"y":83.9},{"x":360,"y":76.1},{"x":360,"y":68.6},{"x":360,"y":61.4},{"x":360,"y":54},{"x":360,"y":46.2},{"x":360,"y":44.5},{"x":360,"y":39},{"x":360,"y":31.6},{"x":360,"y":24.1},{"x":360,"y":16.7},{"x":360,"y":9.3},
{"x":0,"y":174},{"x":0,"y":166.5},{"x":0,"y":159},{"x":0,"y":151.6},{"x":0,"y":144},{"x":0,"y":136.6},{"x":0,"y":129.2},{"x":0,"y":121.8},{"x":0,"y":114.3},{"x":0,"y":106.9},{"x":0,"y":99.5},{"x":0,"y":84.6},{"x":0,"y":77.4},{"x":0,"y":69.8},{"x":0,"y":62.2},{"x":0,"y":54.6},{"x":0,"y":47},{"x":0,"y":39.9},{"x":0,"y":32.5},{"x":0,"y":25},{"x":0,"y":17.5},{"x":0,"y":10},
{"x":174.8,"y":160.2},{"x":117.2,"y":153.2},{"x":130.9,"y":153.4},{"x":144.7,"y":151.6},{"x":155,"y":148.6},{"x":112.2,"y":146.5},{"x":152.7,"y":141.2},{"x":114,"y":139.2},{"x":91.4,"y":135.1},{"x":105.2,"y":135.3},{"x":156.6,"y":133.7},{"x":161.3,"y":130.1},{"x":173.4,"y":128.6},{"x":171.4,"y":135.6},{"x":182,"y":136.7},{"x":191.7,"y":131.3},{"x":80.2,"y":130.2},{"x":89.3,"y":128.4},{"x":103.1,"y":126},{"x":159.7,"y":126.3},{"x":114.5,"y":122.9},{"x":160.5,"y":118.9},{"x":126.5,"y":115.9},{"x":165.2,"y":111.4},{"x":139.8,"y":111.3},{"x":153.6,"y":107.9},{"x":170.8,"y":103.9},{"x":164.1,"y":101.8},{"x":173.7,"y":96.6},{"x":183.8,"y":122.3},{"x":198.7,"y":123.9},{"x":207.6,"y":116.4},{"x":192.8,"y":114.9},{"x":214.6,"y":109},{"x":204.5,"y":108.6},
{"x":188.6,"y":161.1},{"x":184.7,"y":158.7},{"x":202.4,"y":162.1},{"x":198.7,"y":157.6},{"x":216.1,"y":161.7},{"x":212.3,"y":156.4},{"x":225.8,"y":154.8},{"x":229.9,"y":164.2},{"x":243.6,"y":165.7},{"x":257.4,"y":165.2},{"x":271.1,"y":162.7},{"x":284.5,"y":158.7},{"x":296.9,"y":151.2},{"x":297,"y":143.8},{"x":233.3,"y":147.5},{"x":225.8,"y":140.6},{"x":285,"y":136.8},{"x":227.8,"y":133.1},{"x":273.2,"y":131.8},{"x":235.9,"y":128},{"x":249.6,"y":124.6},{"x":263.2,"y":125},
{"x":53.8,"y":47.2},{"x":47.2,"y":45.2},{"x":66.8,"y":45.1},{"x":80.7,"y":43.3},{"x":94.6,"y":42.4},{"x":108.3,"y":41.1},{"x":121.8,"y":40.7},{"x":134.1,"y":36.3},{"x":141,"y":28.9},{"x":134.1,"y":22.8},{"x":120.9,"y":20.3},{"x":115.9,"y":13.9},{"x":121.4,"y":9.3},{"x":135.1,"y":8.5},{"x":149,"y":8.4},{"x":162.7,"y":8.5},{"x":176,"y":13.6},{"x":189.5,"y":15.9},{"x":19,"y":40},{"x":9.4,"y":36.3},{"x":45.3,"y":37.8},{"x":35.8,"y":33.1},{"x":14.2,"y":29.2},{"x":27.9,"y":28.3},
{"x":203.5,"y":16.9},{"x":217.2,"y":15.9},{"x":231,"y":15.1},{"x":244.8,"y":15},{"x":258.5,"y":15.9},{"x":272.1,"y":17.6},{"x":286,"y":17.7},{"x":299.8,"y":18.1},{"x":309,"y":21.1},{"x":298.6,"y":28.5},{"x":295.1,"y":35.9},{"x":297,"y":43.3},{"x":308.9,"y":48.5},{"x":314.1,"y":55.7},{"x":327.5,"y":54.6},{"x":336.6,"y":48.1},{"x":345.5,"y":40.5},{"x":353.7,"y":39},
{"x":278.9,"y":63},{"x":291.7,"y":60.6},{"x":268.5,"y":58.4},{"x":273.2,"y":56.5},{"x":285.5,"y":54.2},{"x":266.9,"y":51.7},{"x":273.6,"y":49},{"x":254.3,"y":49.9},{"x":264.6,"y":45.6}],
"db":[{"g":0,"l":2,"x":0,"y":0},{"g":0,"l":2,"x":360,"y":0},{"g":0,"l":2,"x":360,"y":180},{"g":0,"l":2,"x":0,"y":180},
{"g":1,"l":1,"x":0,"y":53},{"g":1,"l":1,"x":7.4,"y":52.5},{"g":1,"l":1,"x":16.8,"y":53},{"g":1,"l":1,"x":22.2,"y":55},{"g":1,"l":1,"x":30.8,"y":53},{"g":1,"l":1,"x":43.2,"y":53.8},{"g":1,"l":1,"x":55.6,"y":54.4},{"g":1,"l":1,"x":66.5,"y":53.4},{"g":1,"l":1,"x":75.8,"y":50.9},{"g":1,"l":1,"x":79.7,"y":50},{"g":1,"l":1,"x":77.4,"y":41.6},{"g":1,"l":1,"x":76.6,"y":35.7},{"g":1,"l":1,"x":65,"y":30.6},{"g":1,"l":1,"x":74.3,"y":26.8},{"g":1,"l":1,"x":86.7,"y":26.4},{"g":1,"l":1,"x":100.7,"y":27.7},{"g":1,"l":1,"x":111.6,"y":30.6},{"g":1,"l":1,"x":124,"y":33},{"g":1,"l":1,"x":136.4,"y":34.4},{"g":1,"l":1,"x":149.6,"y":35.7},{"g":1,"l":1,"x":157.4,"y":32.3},{"g":1,"l":1,"x":158.2,"y":25.6},{"g":1,"l":1,"x":159.7,"y":22.2},{"g":1,"l":1,"x":165.2,"y":24.7},{"g":1,"l":1,"x":175.3,"y":20},{"g":1,"l":1,"x":183,"y":18.8},{"g":1,"l":1,"x":195.5,"y":16.7},{"g":1,"l":1,"x":209.5,"y":14.6},{"g":1,"l":1,"x":226.6,"y":13.8},{"g":1,"l":1,"x":243.7,"y":14.6},{"g":1,"l":1,"x":251.4,"y":19.2},{"g":1,"l":1,"x":253.8,"y":20.5},{"g":1,"l":1,"x":249.9,"y":26.4},{"g":1,"l":1,"x":246.8,"y":30.2},{"g":1,"l":1,"x":257.7,"y":32.3},{"g":1,"l":1,"x":267,"y":39},{"g":1,"l":1,"x":274.8,"y":42.4},{"g":1,"l":1,"x":288.7,"y":42.4},{"g":1,"l":1,"x":309,"y":42.4},{"g":1,"l":1,"x":316,"y":43.3},{"g":1,"l":1,"x":319.8,"y":47},{"g":1,"l":1,"x":326.8,"y":51.7},{"g":1,"l":1,"x":326.8,"y":59.3},{"g":1,"l":1,"x":330.7,"y":62.7},{"g":1,"l":1,"x":341.6,"y":61.8},{"g":1,"l":1,"x":347.8,"y":57.2},{"g":1,"l":1,"x":360,"y":55},{"g":1,"l":1,"x":360,"y":0},{"g":1,"l":1,"x":0,"y":0},
{"g":2,"l":2,"x":72.7,"y":10},{"g":2,"l":2,"x":82,"y":11.2},{"g":2,"l":2,"x":100.7,"y":11.6},{"g":2,"l":2,"x":113,"y":12.5},{"g":2,"l":2,"x":128.7,"y":11.6},{"g":2,"l":2,"x":138.8,"y":10},{"g":2,"l":2,"x":127.1,"y":7.9},{"g":2,"l":2,"x":113.1,"y":7.3},{"g":2,"l":2,"x":97.6,"y":7.9},{"g":2,"l":2,"x":82,"y":8.7},
{"g":3,"l":1,"x":73.5,"y":175.6},{"g":3,"l":1,"x":86.7,"y":171.4},{"g":3,"l":1,"x":94.5,"y":168.4},{"g":3,"l":1,"x":110,"y":165.9},{"g":3,"l":1,"x":119.3,"y":170.1},{"g":3,"l":1,"x":108.5,"y":178.1},{"g":3,"l":1,"x":103.8,"y":180},{"g":3,"l":1,"x":74.3,"y":180},
{"g":4,"l":1,"x":51,"y":180},{"g":4,"l":1,"x":53.3,"y":178},{"g":4,"l":1,"x":63.4,"y":176.9},{"g":4,"l":1,"x":68,"y":180},
{"g":5,"l":1,"x":223.5,"y":178.1},{"g":5,"l":1,"x":228,"y":180},{"g":5,"l":1,"x":262.3,"y":180},{"g":5,"l":1,"x":267,"y":176.5},{"g":5,"l":1,"x":273.2,"y":173.1},{"g":5,"l":1,"x":281,"y":168.4},{"g":5,"l":1,"x":293.4,"y":165.1},{"g":5,"l":1,"x":301.2,"y":162.5},{"g":5,"l":1,"x":312.8,"y":161.3},{"g":5,"l":1,"x":313.3,"y":156.6},{"g":5,"l":1,"x":305,"y":152.4},{"g":5,"l":1,"x":295,"y":152},{"g":5,"l":1,"x":290.3,"y":149.5},{"g":5,"l":1,"x":299.6,"y":148.2},{"g":5,"l":1,"x":302.7,"y":144.4},{"g":5,"l":1,"x":304.6,"y":139.8},{"g":5,"l":1,"x":295,"y":136.8},{"g":5,"l":1,"x":281,"y":134.3},{"g":5,"l":1,"x":267,"y":133.5},{"g":5,"l":1,"x":253.8,"y":125.9},{"g":5,"l":1,"x":245.2,"y":126.7},{"g":5,"l":1,"x":235,"y":131.8},{"g":5,"l":1,"x":228.1,"y":137.7},{"g":5,"l":1,"x":222.7,"y":144.4},{"g":5,"l":1,"x":220.4,"y":152},{"g":5,"l":1,"x":221.6,"y":158.3},{"g":5,"l":1,"x":232.8,"y":158.8},{"g":5,"l":1,"x":247.6,"y":160.4},{"g":5,"l":1,"x":243.7,"y":164.7},{"g":5,"l":1,"x":240.6,"y":169.7},{"g":5,"l":1,"x":234.4,"y":172.7},
{"g":6,"l":1,"x":156.6,"y":141.9},{"g":6,"l":1,"x":166,"y":144.4},{"g":6,"l":1,"x":173.6,"y":142.7},{"g":6,"l":1,"x":181.5,"y":142.7},{"g":6,"l":1,"x":184.6,"y":141},{"g":6,"l":1,"x":190.8,"y":139.8},{"g":6,"l":1,"x":184.6,"y":136},{"g":6,"l":1,"x":181.5,"y":129.3},{"g":6,"l":1,"x":175.3,"y":130.9},{"g":6,"l":1,"x":169.8,"y":130.1},{"g":6,"l":1,"x":159.7,"y":135.1},
{"g":7,"l":1,"x":257.7,"y":61.8},{"g":7,"l":1,"x":263.1,"y":60.5},{"g":7,"l":1,"x":262.3,"y":57.6},{"g":7,"l":1,"x":257,"y":58}],
"ds":[{"g":1,"l":3,"x":0,"y":180},{"g":1,"l":3,"x":4.3,"y":179.4},{"g":1,"l":3,"x":26,"y":178.6},{"g":1,"l":3,"x":47.9,"y":176.9},{"g":1,"l":3,"x":58.7,"y":174.4},{"g":1,"l":3,"x":69.6,"y":171.8},{"g":1,"l":3,"x":73.5,"y":169.7},{"g":1,"l":3,"x":79.7,"y":161.4},{"g":1,"l":3,"x":97.6,"y":158.8},{"g":1,"l":3,"x":120.9,"y":157.1},{"g":1,"l":3,"x":134.9,"y":154.1},{"g":1,"l":3,"x":139.5,"y":154.5},{"g":1,"l":3,"x":144.5,"y":150.1},{"g":1,"l":3,"x":138,"y":141.9},{"g":1,"l":3,"x":138.8,"y":136.8},{"g":1,"l":3,"x":148.9,"y":130.1},{"g":1,"l":3,"x":159.7,"y":126.7},{"g":1,"l":3,"x":170.6,"y":127.6},{"g":1,"l":3,"x":175.3,"y":125.9},{"g":1,"l":3,"x":189.3,"y":121.7},{"g":1,"l":3,"x":204,"y":116.2},{"g":1,"l":3,"x":209.5,"y":120},{"g":1,"l":3,"x":208,"y":130},{"g":1,"l":3,"x":220.4,"y":127.1},{"g":1,"l":3,"x":229.7,"y":126.3},{"g":1,"l":3,"x":237.5,"y":120.8},{"g":1,"l":3,"x":249.9,"y":117},{"g":1,"l":3,"x":260.8,"y":117.9},{"g":1,"l":3,"x":270.1,"y":120},{"g":1,"l":3,"x":276.3,"y":125},{"g":1,"l":3,"x":290.3,"y":128.8},{"g":1,"l":3,"x":301.2,"y":133.4},{"g":1,"l":3,"x":309,"y":137.3},{"g":1,"l":3,"x":313.6,"y":138.5},{"g":1,"l":3,"x":316,"y":144},{"g":1,"l":3,"x":322.9,"y":146.5},{"g":1,"l":3,"x":337,"y":148.2},{"g":1,"l":3,"x":360,"y":148.2},{"g":1,"l":3,"x":360,"y":80.4},{"g":1,"l":3,"x":346.2,"y":82.9},{"g":1,"l":3,"x":341.6,"y":80.4},{"g":1,"l":3,"x":339.2,"y":71},{"g":1,"l":3,"x":326,"y":70.2},{"g":1,"l":3,"x":322.2,"y":66.9},{"g":1,"l":3,"x":316,"y":60.5},{"g":1,"l":3,"x":312,"y":54.2},{"g":1,"l":3,"x":302,"y":48.3},{"g":1,"l":3,"x":291.9,"y":47.5},{"g":1,"l":3,"x":274.8,"y":47.5},{"g":1,"l":3,"x":262.3,"y":50},{"g":1,"l":3,"x":267.8,"y":51.7},{"g":1,"l":3,"x":269.3,"y":58.9},{"g":1,"l":3,"x":272.4,"y":64.3},{"g":1,"l":3,"x":280.2,"y":70.1},{"g":1,"l":3,"x":271.6,"y":72.3},{"g":1,"l":3,"x":257.7,"y":70.7},{"g":1,"l":3,"x":255.3,"y":63.5},{"g":1,"l":3,"x":247.6,"y":59.7},{"g":1,"l":3,"x":246.8,"y":52.5},{"g":1,"l":3,"x":246,"y":43.7},{"g":1,"l":3,"x":240.6,"y":39.9},{"g":1,"l":3,"x":226.6,"y":36.9},{"g":1,"l":3,"x":216.5,"y":30.2},{"g":1,"l":3,"x":213.4,"y":26},{"g":1,"l":3,"x":204,"y":26},{"g":1,"l":3,"x":186.2,"y":32.3},{"g":1,"l":3,"x":178.4,"y":34.4},{"g":1,"l":3,"x":170.6,"y":39.9},{"g":1,"l":3,"x":158.2,"y":44.1},{"g":1,"l":3,"x":139.5,"y":52.8},{"g":1,"l":3,"x":127.9,"y":50},{"g":1,"l":3,"x":125.5,"y":44.5},{"g":1,"l":3,"x":118.6,"y":40.7},{"g":1,"l":3,"x":108.5,"y":42.4},{"g":1,"l":3,"x":99.9,"y":44.5},{"g":1,"l":3,"x":94.5,"y":50},{"g":1,"l":3,"x":82,"y":52.5},{"g":1,"l":3,"x":66.5,"y":57.6},{"g":1,"l":3,"x":60.3,"y":60.5},{"g":1,"l":3,"x":57.2,"y":70.7},{"g":1,"l":3,"x":50.2,"y":74.5},{"g":1,"l":3,"x":44.7,"y":75.1},{"g":1,"l":3,"x":37,"y":72.8},{"g":1,"l":3,"x":33.1,"y":70.2},{"g":1,"l":3,"x":35.4,"y":64.3},{"g":1,"l":3,"x":29.2,"y":66},{"g":1,"l":3,"x":25.3,"y":64.5},{"g":1,"l":3,"x":9,"y":68.6},{"g":1,"l":3,"x":6.7,"y":70.2},{"g":1,"l":3,"x":4.3,"y":76.1},{"g":1,"l":3,"x":0,"y":81.6},
{"g":2,"l":3,"x":300.4,"y":170.1},{"g":2,"l":3,"x":304.3,"y":176.5},{"g":2,"l":3,"x":310.5,"y":180},{"g":2,"l":3,"x":360,"y":180},{"g":2,"l":3,"x":360,"y":160.9},{"g":2,"l":3,"x":330.7,"y":162.5},{"g":2,"l":3,"x":315.2,"y":165.9},
{"g":3,"l":3,"x":167.5,"y":152.9},{"g":3,"l":3,"x":168.3,"y":150.3},{"g":3,"l":3,"x":175.3,"y":147.8},{"g":3,"l":3,"x":187.7,"y":145.3},{"g":3,"l":3,"x":196.3,"y":143.6},{"g":3,"l":3,"x":199.4,"y":146.1},{"g":3,"l":3,"x":204.8,"y":145.4},{"g":3,"l":3,"x":205.6,"y":150.3},{"g":3,"l":3,"x":198.6,"y":153.7},{"g":3,"l":3,"x":189.3,"y":156.6},{"g":3,"l":3,"x":181.5,"y":157.9},{"g":3,"l":3,"x":175.3,"y":156.6},{"g":3,"l":3,"x":170.6,"y":152},
{"g":4,"l":4,"x":180.7,"y":150.3},{"g":4,"l":4,"x":187,"y":153.1},{"g":4,"l":4,"x":195.5,"y":149.9},{"g":4,"l":4,"x":192.4,"y":147.5},
{"g":5,"l":2,"x":0,"y":160},{"g":5,"l":2,"x":9,"y":156.2},{"g":5,"l":2,"x":19.9,"y":155},{"g":5,"l":2,"x":23,"y":157.5},{"g":5,"l":2,"x":35.4,"y":160},{"g":5,"l":2,"x":48.6,"y":159.2},{"g":5,"l":2,"x":54.8,"y":150.3},{"g":5,"l":2,"x":52.5,"y":148},{"g":5,"l":2,"x":41.6,"y":149.5},{"g":5,"l":2,"x":9,"y":149.6},{"g":5,"l":2,"x":0,"y":148.2},
{"g":6,"l":2,"x":72.3,"y":140.2},{"g":6,"l":2,"x":77.4,"y":142.7},{"g":6,"l":2,"x":97.6,"y":141.9},{"g":6,"l":2,"x":103,"y":140.2},{"g":6,"l":2,"x":97.6,"y":139.4},{"g":6,"l":2,"x":75.8,"y":139.4},
{"g":7,"l":4,"x":98,"y":150},{"g":7,"l":4,"x":108,"y":152},{"g":7,"l":4,"x":125,"y":150},{"g":7,"l":4,"x":124,"y":146},{"g":7,"l":4,"x":119,"y":141},{"g":7,"l":4,"x":108,"y":147},
{"g":8,"l":4,"x":0,"y":177.3},{"g":8,"l":4,"x":7.4,"y":177.3},{"g":8,"l":4,"x":15.2,"y":175.6},{"g":8,"l":4,"x":33,"y":178},{"g":8,"l":4,"x":43.2,"y":177.3},{"g":8,"l":4,"x":61,"y":170.1},{"g":8,"l":4,"x":57.2,"y":163},{"g":8,"l":4,"x":49,"y":163},{"g":8,"l":4,"x":49.4,"y":160.9},{"g":8,"l":4,"x":35.4,"y":160.4},{"g":8,"l":4,"x":9,"y":160.9},{"g":8,"l":4,"x":0,"y":160.9},
{"g":9,"l":5,"x":0,"y":176.5},{"g":9,"l":5,"x":9,"y":174.8},{"g":9,"l":5,"x":18.3,"y":173.5},{"g":9,"l":5,"x":29.2,"y":174.8},{"g":9,"l":5,"x":41.6,"y":176.5},{"g":9,"l":5,"x":55.6,"y":170.5},{"g":9,"l":5,"x":54,"y":166.3},{"g":9,"l":5,"x":49.4,"y":163.8},{"g":9,"l":5,"x":32.3,"y":164.7},{"g":9,"l":5,"x":9,"y":162.1},{"g":9,"l":5,"x":0,"y":163},
{"g":10,"l":6,"x":0,"y":174.8},{"g":10,"l":6,"x":9,"y":172.7},{"g":10,"l":6,"x":19.9,"y":171.4},{"g":10,"l":6,"x":30.8,"y":171.8},{"g":10,"l":6,"x":33.9,"y":168.9},{"g":10,"l":6,"x":23,"y":168},{"g":10,"l":6,"x":9,"y":166.3},{"g":10,"l":6,"x":0,"y":164},
{"g":11,"l":7,"x":0,"y":172.2},{"g":11,"l":7,"x":9,"y":170.5},{"g":11,"l":7,"x":17.5,"y":169.7},{"g":11,"l":7,"x":9,"y":165.5},{"g":11,"l":7,"x":2.8,"y":163.8},{"g":11,"l":7,"x":0,"y":163.8},
{"g":12,"l":8,"x":0,"y":172.7},{"g":12,"l":8,"x":8.2,"y":170.1},{"g":12,"l":8,"x":4.3,"y":167.2},{"g":12,"l":8,"x":0,"y":166},
{"g":13,"l":9,"x":0,"y":171.4},{"g":13,"l":9,"x":4.3,"y":169.9},{"g":13,"l":9,"x":2,"y":168},{"g":13,"l":9,"x":0,"y":168},
{"g":14,"l":7,"x":30.8,"y":170.1},{"g":14,"l":7,"x":33.1,"y":176.9},{"g":14,"l":7,"x":40.1,"y":178.1},{"g":14,"l":7,"x":50.2,"y":170.1},{"g":14,"l":7,"x":49.4,"y":161.7},{"g":14,"l":7,"x":40.1,"y":160.4},
{"g":15,"l":8,"x":31.5,"y":170.5},{"g":15,"l":8,"x":33.9,"y":176},{"g":15,"l":8,"x":40.1,"y":176.9},{"g":15,"l":8,"x":48.6,"y":170.1},{"g":15,"l":8,"x":47.9,"y":163.8},{"g":15,"l":8,"x":41.6,"y":162.1},
{"g":16,"l":9,"x":33.1,"y":171},{"g":16,"l":9,"x":34.6,"y":174.8},{"g":16,"l":9,"x":39.3,"y":175.2},{"g":16,"l":9,"x":45.5,"y":170.1},{"g":16,"l":9,"x":44.7,"y":165},{"g":16,"l":9,"x":41.6,"y":165},
{"g":17,"l":4,"x":0,"y":144.8},{"g":17,"l":4,"x":9,"y":144.8},{"g":17,"l":4,"x":12.9,"y":146.3},{"g":17,"l":4,"x":21.4,"y":147.2},{"g":17,"l":4,"x":41.6,"y":146.1},{"g":17,"l":4,"x":51,"y":144.4},{"g":17,"l":4,"x":60.3,"y":138.5},{"g":17,"l":4,"x":69.6,"y":133.9},{"g":17,"l":4,"x":82,"y":136},{"g":17,"l":4,"x":97.6,"y":135.6},{"g":17,"l":4,"x":110,"y":136.8},{"g":17,"l":4,"x":114.7,"y":133},{"g":17,"l":4,"x":125.6,"y":128},{"g":17,"l":4,"x":138,"y":120},{"g":17,"l":4,"x":144.2,"y":115.8},{"g":17,"l":4,"x":157.4,"y":122.1},{"g":17,"l":4,"x":166,"y":124.2},{"g":17,"l":4,"x":175.3,"y":122.5},{"g":17,"l":4,"x":195.5,"y":114.9},{"g":17,"l":4,"x":209.5,"y":109.9},{"g":17,"l":4,"x":220.4,"y":100.6},{"g":17,"l":4,"x":221,"y":113},{"g":17,"l":4,"x":223.5,"y":115.8},{"g":17,"l":4,"x":235.1,"y":115.3},{"g":17,"l":4,"x":249.9,"y":109.4},{"g":17,"l":4,"x":260,"y":111.1},{"g":17,"l":4,"x":263.9,"y":116.2},{"g":17,"l":4,"x":276.3,"y":119.1},{"g":17,"l":4,"x":287.2,"y":121.7},{"g":17,"l":4,"x":304.3,"y":125},{"g":17,"l":4,"x":307.4,"y":130.9},{"g":17,"l":4,"x":315.2,"y":135.1},{"g":17,"l":4,"x":324.5,"y":141},{"g":17,"l":4,"x":333.8,"y":143.2},{"g":17,"l":4,"x":360,"y":144.8},{"g":17,"l":4,"x":360,"y":82},{"g":17,"l":4,"x":340,"y":88.8},{"g":17,"l":4,"x":332.3,"y":78.7},{"g":17,"l":4,"x":319.8,"y":77},{"g":17,"l":4,"x":312,"y":77.8},{"g":17,"l":4,"x":314.4,"y":70.2},{"g":17,"l":4,"x":310.5,"y":66},{"g":17,"l":4,"x":302.7,"y":66.4},{"g":17,"l":4,"x":305,"y":59.3},{"g":17,"l":4,"x":290.3,"y":53},{"g":17,"l":4,"x":278.6,"y":56.8},{"g":17,"l":4,"x":277.9,"y":61},{"g":17,"l":4,"x":292.6,"y":68.1},{"g":17,"l":4,"x":294,"y":70.7},{"g":17,"l":4,"x":290.3,"y":78.7},{"g":17,"l":4,"x":288,"y":72.3},{"g":17,"l":4,"x":270.1,"y":75.3},{"g":17,"l":4,"x":251.4,"y":64.3},{"g":17,"l":4,"x":239,"y":60.1},{"g":17,"l":4,"x":235.1,"y":53.4},{"g":17,"l":4,"x":234.4,"y":45.4},{"g":17,"l":4,"x":226.6,"y":42.4},{"g":17,"l":4,"x":211,"y":39.9},{"g":17,"l":4,"x":200.2,"y":37.4},{"g":17,"l":4,"x":175.3,"y":42.4},{"g":17,"l":4,"x":170.6,"y":45},{"g":17,"l":4,"x":153.5,"y":54.2},{"g":17,"l":4,"x":139.5,"y":59.7},{"g":17,"l":4,"x":130.2,"y":56.8},{"g":17,"l":4,"x":127.1,"y":53.4},{"g":17,"l":4,"x":110,"y":51.3},{"g":17,"l":4,"x":96,"y":53.4},{"g":17,"l":4,"x":83.6,"y":55.9},{"g":17,"l":4,"x":68,"y":59.7},{"g":17,"l":4,"x":67.3,"y":68.6},{"g":17,"l":4,"x":59.5,"y":76.6},{"g":17,"l":4,"x":49.4,"y":77.8},{"g":17,"l":4,"x":40,"y":79},{"g":17,"l":4,"x":30.8,"y":74.5},{"g":17,"l":4,"x":19.9,"y":72.3},{"g":17,"l":4,"x":9,"y":77},{"g":17,"l":4,"x":0,"y":82},
{"g":18,"l":3,"x":241.3,"y":90},{"g":18,"l":3,"x":249.9,"y":93.8},{"g":18,"l":3,"x":263.9,"y":90},{"g":18,"l":3,"x":248.3,"y":88.4},
{"g":19,"l":3,"x":206.4,"y":82.9},{"g":19,"l":3,"x":212.6,"y":80.4},{"g":19,"l":3,"x":211,"y":78.2},{"g":19,"l":3,"x":207,"y":80.4},
{"g":20,"l":3,"x":291,"y":80.4},{"g":20,"l":3,"x":305,"y":80},{"g":20,"l":3,"x":299.6,"y":76.6},
{"g":21,"l":5,"x":0,"y":140.6},{"g":21,"l":5,"x":9.8,"y":140.4},{"g":21,"l":5,"x":16.8,"y":143.2},{"g":21,"l":5,"x":25.3,"y":144.8},{"g":21,"l":5,"x":40,"y":143.6},{"g":21,"l":5,"x":51,"y":140.2},{"g":21,"l":5,"x":47.1,"y":133},{"g":21,"l":5,"x":29.2,"y":130.9},{"g":21,"l":5,"x":29.2,"y":128.4},{"g":21,"l":5,"x":36.2,"y":120.4},{"g":21,"l":5,"x":69.6,"y":116.6},{"g":21,"l":5,"x":92.6,"y":120},{"g":21,"l":5,"x":78.2,"y":130},{"g":21,"l":5,"x":88.3,"y":133},{"g":21,"l":5,"x":99.1,"y":134.3},{"g":21,"l":5,"x":110,"y":131.4},{"g":21,"l":5,"x":120.9,"y":127.6},{"g":21,"l":5,"x":130.2,"y":127.1},{"g":21,"l":5,"x":138,"y":120},{"g":21,"l":5,"x":145.7,"y":114.9},{"g":21,"l":5,"x":157,"y":112},{"g":21,"l":5,"x":166,"y":120.8},{"g":21,"l":5,"x":175,"y":115},{"g":21,"l":5,"x":184.6,"y":115},{"g":21,"l":5,"x":209.5,"y":107},{"g":21,"l":5,"x":220.4,"y":100.2},{"g":21,"l":5,"x":229.7,"y":99.8},{"g":21,"l":5,"x":233.6,"y":106},{"g":21,"l":5,"x":249.9,"y":103.1},{"g":21,"l":5,"x":263.9,"y":106},{"g":21,"l":5,"x":270.9,"y":115.8},{"g":21,"l":5,"x":281,"y":117.4},{"g":21,"l":5,"x":309,"y":119},{"g":21,"l":5,"x":313.6,"y":126.7},{"g":21,"l":5,"x":322.9,"y":128.8},{"g":21,"l":5,"x":337,"y":140.6},{"g":21,"l":5,"x":360,"y":140.2},{"g":21,"l":5,"x":360,"y":84},{"g":21,"l":5,"x":345,"y":91},{"g":21,"l":5,"x":337,"y":94},{"g":21,"l":5,"x":329,"y":93.5},{"g":21,"l":5,"x":327,"y":84},{"g":21,"l":5,"x":320,"y":82},{"g":21,"l":5,"x":309,"y":82.5},{"g":21,"l":5,"x":301,"y":88},{"g":21,"l":5,"x":298,"y":94},{"g":21,"l":5,"x":288,"y":95},{"g":21,"l":5,"x":268,"y":96.5},{"g":21,"l":5,"x":250,"y":98.5},{"g":21,"l":5,"x":240.6,"y":95.5},{"g":21,"l":5,"x":233,"y":97},{"g":21,"l":5,"x":232,"y":92},{"g":21,"l":5,"x":240,"y":88},{"g":21,"l":5,"x":259,"y":87},{"g":21,"l":5,"x":270,"y":85},{"g":21,"l":5,"x":278.6,"y":80.4},{"g":21,"l":5,"x":268.5,"y":75.7},{"g":21,"l":5,"x":250,"y":61.4},{"g":21,"l":5,"x":239,"y":60},{"g":21,"l":5,"x":226.6,"y":59.3},{"g":21,"l":5,"x":228.1,"y":50},{"g":21,"l":5,"x":221.9,"y":46.2},{"g":21,"l":5,"x":200.2,"y":43.7},{"g":21,"l":5,"x":175.3,"y":47.5},{"g":21,"l":5,"x":166,"y":50},{"g":21,"l":5,"x":152,"y":59.7},{"g":21,"l":5,"x":139.5,"y":63},{"g":21,"l":5,"x":127.9,"y":61.4},{"g":21,"l":5,"x":125.5,"y":56.8},{"g":21,"l":5,"x":113.1,"y":53.4},{"g":21,"l":5,"x":97.6,"y":55.1},{"g":21,"l":5,"x":77.4,"y":61.8},{"g":21,"l":5,"x":70.4,"y":69.4},{"g":21,"l":5,"x":69.6,"y":80.4},{"g":21,"l":5,"x":58.7,"y":83.7},{"g":21,"l":5,"x":39.3,"y":86.7},{"g":21,"l":5,"x":33.9,"y":91.3},{"g":21,"l":5,"x":27.6,"y":92},{"g":21,"l":5,"x":19.1,"y":90.5},{"g":21,"l":5,"x":26.6,"y":80.4},{"g":21,"l":5,"x":19.9,"y":79},{"g":21,"l":5,"x":8.2,"y":82.5},{"g":21,"l":5,"x":0,"y":84.2},
{"g":22,"l":3,"x":150.4,"y":120},{"g":22,"l":3,"x":161.3,"y":114.1},{"g":22,"l":3,"x":169.8,"y":109},{"g":22,"l":3,"x":178,"y":100},{"g":22,"l":3,"x":186,"y":94},{"g":22,"l":3,"x":192,"y":92},{"g":22,"l":3,"x":198,"y":87},{"g":22,"l":3,"x":178,"y":93},{"g":22,"l":3,"x":170,"y":99},{"g":22,"l":3,"x":163,"y":103},{"g":22,"l":3,"x":158,"y":107},{"g":22,"l":3,"x":150,"y":114},
{"g":23,"l":2,"x":149.6,"y":130.1},{"g":23,"l":2,"x":146.5,"y":124.2},{"g":23,"l":2,"x":146.5,"y":120},{"g":23,"l":2,"x":155.5,"y":110},{"g":23,"l":2,"x":158,"y":107},{"g":23,"l":2,"x":166.7,"y":106},{"g":23,"l":2,"x":169.8,"y":109},{"g":23,"l":2,"x":161.3,"y":114.1},{"g":23,"l":2,"x":150.4,"y":120},
{"g":24,"l":6,"x":0,"y":119},{"g":24,"l":6,"x":20.7,"y":119},{"g":24,"l":6,"x":35.4,"y":120},{"g":24,"l":6,"x":52.5,"y":118.7},{"g":24,"l":6,"x":68,"y":112.8},{"g":24,"l":6,"x":85.1,"y":115.3},{"g":24,"l":6,"x":99.1,"y":117},{"g":24,"l":6,"x":107.7,"y":112.8},{"g":24,"l":6,"x":99.9,"y":124.2},{"g":24,"l":6,"x":90.6,"y":130.1},{"g":24,"l":6,"x":99.1,"y":131.4},{"g":24,"l":6,"x":113.1,"y":125.9},{"g":24,"l":6,"x":124,"y":123.3},{"g":24,"l":6,"x":134.9,"y":119.1},{"g":24,"l":6,"x":144.2,"y":111.5},{"g":24,"l":6,"x":149.6,"y":104.8},{"g":24,"l":6,"x":163.6,"y":104.8},{"g":24,"l":6,"x":175.3,"y":97.2},{"g":24,"l":6,"x":184.6,"y":94.7},{"g":24,"l":6,"x":196,"y":85},{"g":24,"l":6,"x":199.4,"y":79},{"g":24,"l":6,"x":209.5,"y":78},{"g":24,"l":6,"x":221,"y":71},{"g":24,"l":6,"x":220.4,"y":50},{"g":24,"l":6,"x":208,"y":48.3},{"g":24,"l":6,"x":195.5,"y":50},{"g":24,"l":6,"x":184.6,"y":51.7},{"g":24,"l":6,"x":175,"y":53},{"g":24,"l":6,"x":165,"y":64.3},{"g":24,"l":6,"x":160.5,"y":61},{"g":24,"l":6,"x":148.9,"y":61},{"g":24,"l":6,"x":138.8,"y":61.8},{"g":24,"l":6,"x":128.7,"y":60.5},{"g":24,"l":6,"x":122.4,"y":63.5},{"g":24,"l":6,"x":120.9,"y":58},{"g":24,"l":6,"x":110,"y":55.5},{"g":24,"l":6,"x":89.8,"y":60.5},{"g":24,"l":6,"x":80.5,"y":64.8},{"g":24,"l":6,"x":75,"y":69.4},{"g":24,"l":6,"x":75,"y":80.4},{"g":24,"l":6,"x":77.4,"y":83.7},{"g":24,"l":6,"x":66.5,"y":88.8},{"g":24,"l":6,"x":54,"y":90.5},{"g":24,"l":6,"x":35.4,"y":95.5},{"g":24,"l":6,"x":24.5,"y":96.4},{"g":24,"l":6,"x":14.4,"y":94.3},{"g":24,"l":6,"x":14.4,"y":86.7},{"g":24,"l":6,"x":8.2,"y":86.7},{"g":24,"l":6,"x":4.3,"y":85},{"g":24,"l":6,"x":0,"y":88},
{"g":25,"l":6,"x":0,"y":134.3},{"g":25,"l":6,"x":12.1,"y":130.1},{"g":25,"l":6,"x":9.3,"y":121.2},{"g":25,"l":6,"x":0,"y":122.9},
{"g":26,"l":6,"x":21,"y":140.4},{"g":26,"l":6,"x":27.6,"y":142.3},{"g":26,"l":6,"x":40,"y":141.9},{"g":26,"l":6,"x":44.3,"y":139.8},{"g":26,"l":6,"x":42.4,"y":137.3},{"g":26,"l":6,"x":30,"y":135.8},
{"g":27,"l":7,"x":0,"y":116.6},{"g":27,"l":7,"x":9,"y":117.4},{"g":27,"l":7,"x":20.7,"y":117.4},{"g":27,"l":7,"x":43.2,"y":116.6},{"g":27,"l":7,"x":66.5,"y":110.3},{"g":27,"l":7,"x":71.9,"y":107.7},{"g":27,"l":7,"x":86.7,"y":111.5},{"g":27,"l":7,"x":110,"y":109},{"g":27,"l":7,"x":119.3,"y":102.3},{"g":27,"l":7,"x":122.4,"y":107.7},{"g":27,"l":7,"x":125,"y":104},{"g":27,"l":7,"x":126,"y":98},{"g":27,"l":7,"x":141,"y":88.5},{"g":27,"l":7,"x":155,"y":80},{"g":27,"l":7,"x":158,"y":81},{"g":27,"l":7,"x":158.9,"y":63},{"g":27,"l":7,"x":150.4,"y":62.5},{"g":27,"l":7,"x":138.8,"y":64.3},{"g":27,"l":7,"x":129.4,"y":62.6},{"g":27,"l":7,"x":121,"y":68.5},{"g":27,"l":7,"x":118,"y":71},{"g":27,"l":7,"x":105.5,"y":73.6},{"g":27,"l":7,"x":104.6,"y":71},{"g":27,"l":7,"x":115.4,"y":60.5},{"g":27,"l":7,"x":110,"y":58.3},{"g":27,"l":7,"x":89.8,"y":63.5},{"g":27,"l":7,"x":79.7,"y":70.7},{"g":27,"l":7,"x":82,"y":77.8},{"g":27,"l":7,"x":86.7,"y":80.4},{"g":27,"l":7,"x":73.5,"y":93},{"g":27,"l":7,"x":63.4,"y":90.5},{"g":27,"l":7,"x":58,"y":91.3},{"g":27,"l":7,"x":35.4,"y":95.1},{"g":27,"l":7,"x":12.9,"y":97.2},{"g":27,"l":7,"x":8.2,"y":91.3},{"g":27,"l":7,"x":0,"y":92.2},
{"g":28,"l":6,"x":55.6,"y":100.6},{"g":28,"l":6,"x":69.6,"y":106},{"g":28,"l":6,"x":74.3,"y":96.8},{"g":28,"l":6,"x":63.4,"y":92},{"g":28,"l":6,"x":58,"y":91.3},
{"g":29,"l":5,"x":58.7,"y":101},{"g":29,"l":5,"x":69.6,"y":105.6},{"g":29,"l":5,"x":73.5,"y":98.5},{"g":29,"l":5,"x":69.6,"y":96},{"g":29,"l":5,"x":59.5,"y":98.5},
{"g":30,"l":5,"x":109.2,"y":70.2},{"g":30,"l":5,"x":120.9,"y":69.8},{"g":30,"l":5,"x":127.2,"y":63.9},{"g":30,"l":5,"x":127.9,"y":61},{"g":30,"l":5,"x":120.9,"y":63.5},{"g":30,"l":5,"x":113,"y":66},
{"g":31,"l":6,"x":120.9,"y":79.9},{"g":31,"l":6,"x":129.4,"y":86.7},{"g":31,"l":6,"x":131,"y":80.4},{"g":31,"l":6,"x":138.8,"y":69.4},{"g":31,"l":6,"x":138,"y":66},{"g":31,"l":6,"x":129.4,"y":63.1},{"g":31,"l":6,"x":122.4,"y":68.6},
{"g":32,"l":7,"x":121.7,"y":79},{"g":32,"l":7,"x":127.1,"y":78.7},{"g":32,"l":7,"x":136.4,"y":70.2},{"g":32,"l":7,"x":135.6,"y":66.9},{"g":32,"l":7,"x":131,"y":64.3},{"g":32,"l":7,"x":124,"y":69},
{"g":33,"l":8,"x":124.8,"y":74.5},{"g":33,"l":8,"x":134.1,"y":70.2},{"g":33,"l":8,"x":130.2,"y":67.3},{"g":33,"l":8,"x":126.3,"y":69.4},
{"g":34,"l":8,"x":5.6,"y":113.2},{"g":34,"l":8,"x":19.9,"y":112.8},{"g":34,"l":8,"x":25.3,"y":115.8},{"g":34,"l":8,"x":38.5,"y":116.2},{"g":34,"l":8,"x":55.6,"y":109.9},{"g":34,"l":8,"x":48.6,"y":100.6},{"g":34,"l":8,"x":30.8,"y":99.3},{"g":34,"l":8,"x":19.9,"y":104.4},{"g":34,"l":8,"x":9,"y":104.4},
{"g":35,"l":9,"x":21.9,"y":110.3},{"g":35,"l":9,"x":27.6,"y":113.6},{"g":35,"l":9,"x":38.5,"y":114},{"g":35,"l":9,"x":48.6,"y":109.9},{"g":35,"l":9,"x":46.3,"y":104},{"g":35,"l":9,"x":40.1,"y":103.1},{"g":35,"l":9,"x":30,"y":104},
{"g":36,"l":8,"x":120.1,"y":119.6},{"g":36,"l":8,"x":124,"y":118.3},{"g":36,"l":8,"x":138,"y":112},{"g":36,"l":8,"x":148.1,"y":101.4},{"g":36,"l":8,"x":141.1,"y":105.6},{"g":36,"l":8,"x":132.5,"y":105.2},{"g":36,"l":8,"x":121.7,"y":110.7},
{"g":37,"l":9,"x":124.8,"y":115.3},{"g":37,"l":9,"x":138.8,"y":109.9},{"g":37,"l":9,"x":131.8,"y":107.3},{"g":37,"l":9,"x":125.6,"y":109.9},
{"g":38,"l":8,"x":82,"y":93},{"g":38,"l":8,"x":86.7,"y":103.5},{"g":38,"l":8,"x":92.1,"y":104},{"g":38,"l":8,"x":94.5,"y":99.7},{"g":38,"l":8,"x":96,"y":92},{"g":38,"l":8,"x":99,"y":81.2},{"g":38,"l":8,"x":90,"y":85},{"g":38,"l":8,"x":82,"y":90},
{"g":39,"l":9,"x":87,"y":95},{"g":39,"l":9,"x":90,"y":93},{"g":39,"l":9,"x":92,"y":90},{"g":39,"l":9,"x":88,"y":90},
{"g":40,"l":8,"x":102.2,"y":106.9},{"g":40,"l":8,"x":110,"y":106},{"g":40,"l":8,"x":125.6,"y":93.4},{"g":40,"l":8,"x":127,"y":88},{"g":40,"l":8,"x":118.6,"y":81},{"g":40,"l":8,"x":119,"y":71},{"g":40,"l":8,"x":109.2,"y":71},{"g":40,"l":8,"x":100.7,"y":81.2},{"g":40,"l":8,"x":102,"y":90},{"g":40,"l":8,"x":102,"y":96},
{"g":41,"l":9,"x":106,"y":104},{"g":41,"l":9,"x":110.8,"y":104},{"g":41,"l":9,"x":125.6,"y":93.8},{"g":41,"l":9,"x":125,"y":86},{"g":41,"l":9,"x":118,"y":80},{"g":41,"l":9,"x":116,"y":74},{"g":41,"l":9,"x":108,"y":75.3},{"g":41,"l":9,"x":102.5,"y":81},{"g":41,"l":9,"x":107,"y":88},{"g":41,"l":9,"x":108,"y":95},
{"g":42,"l":8,"x":133.3,"y":86.3},{"g":42,"l":8,"x":144.2,"y":85.8},{"g":42,"l":8,"x":157.4,"y":79.5},{"g":42,"l":8,"x":157.4,"y":63.5},{"g":42,"l":8,"x":148.9,"y":64.3},{"g":42,"l":8,"x":140.3,"y":70.2},{"g":42,"l":8,"x":138,"y":78.7},
{"g":43,"l":9,"x":138.8,"y":81.2},{"g":43,"l":9,"x":150.4,"y":80.4},{"g":43,"l":9,"x":155.9,"y":71.1},{"g":43,"l":9,"x":154.3,"y":65.2},{"g":43,"l":9,"x":148.9,"y":66},{"g":43,"l":9,"x":142.6,"y":71.9},
{"g":44,"l":8,"x":88.3,"y":70.7},{"g":44,"l":8,"x":90.6,"y":71.8},{"g":44,"l":8,"x":92.6,"y":69.4},{"g":44,"l":8,"x":90,"y":68.6},
{"g":45,"l":5,"x":125,"y":105},{"g":45,"l":5,"x":145,"y":99},{"g":45,"l":5,"x":156,"y":82},{"g":45,"l":5,"x":141,"y":90},{"g":45,"l":5,"x":126,"y":99},
{"g":46,"l":4,"x":128,"y":103},{"g":46,"l":4,"x":145,"y":97},{"g":46,"l":4,"x":155,"y":84},{"g":46,"l":4,"x":143,"y":90},{"g":46,"l":4,"x":128,"y":100},
{"g":47,"l":3,"x":142,"y":93},{"g":47,"l":3,"x":153,"y":84},{"g":47,"l":3,"x":148,"y":91},
{"g":48,"l":2,"x":145,"y":92},{"g":48,"l":2,"x":152,"y":86},{"g":48,"l":2,"x":150,"y":90},
{"g":49,"l":7,"x":150.4,"y":101},{"g":49,"l":7,"x":164.4,"y":102.3},{"g":49,"l":7,"x":175.3,"y":96.4},{"g":49,"l":7,"x":184,"y":93},{"g":49,"l":7,"x":175,"y":92},{"g":49,"l":7,"x":165,"y":90},{"g":49,"l":7,"x":152,"y":98},
{"g":50,"l":8,"x":151.2,"y":100.6},{"g":50,"l":8,"x":158.2,"y":102.3},{"g":50,"l":8,"x":164.4,"y":96.4},{"g":50,"l":8,"x":169,"y":90.9},{"g":50,"l":8,"x":158.2,"y":94.7},
{"g":51,"l":4,"x":159.7,"y":85.4},{"g":51,"l":4,"x":178.4,"y":79.9},{"g":51,"l":4,"x":178.4,"y":72.3},{"g":51,"l":4,"x":169,"y":75.3},{"g":51,"l":4,"x":160.5,"y":79.5},
{"g":52,"l":3,"x":162,"y":85},{"g":52,"l":3,"x":176,"y":78.5},{"g":52,"l":3,"x":176,"y":76},{"g":52,"l":3,"x":164,"y":80},
{"g":53,"l":2,"x":167.5,"y":82},{"g":53,"l":2,"x":172,"y":79},{"g":53,"l":2,"x":170,"y":78.5},{"g":53,"l":2,"x":167,"y":80.5},
{"g":54,"l":7,"x":175,"y":93},{"g":54,"l":7,"x":184.6,"y":89.6},{"g":54,"l":7,"x":195.5,"y":82},{"g":54,"l":7,"x":199.4,"y":77},{"g":54,"l":7,"x":209.5,"y":76.6},{"g":54,"l":7,"x":219.6,"y":70.2},{"g":54,"l":7,"x":217.3,"y":60.1},{"g":54,"l":7,"x":209.5,"y":50.8},{"g":54,"l":7,"x":197,"y":51.7},{"g":54,"l":7,"x":183,"y":55.5},{"g":54,"l":7,"x":175.3,"y":57.6},{"g":54,"l":7,"x":162.8,"y":71},{"g":54,"l":7,"x":170,"y":80},{"g":54,"l":7,"x":168,"y":88},
{"g":55,"l":6,"x":178,"y":88},{"g":55,"l":6,"x":190,"y":70},{"g":55,"l":6,"x":182,"y":67},{"g":55,"l":6,"x":175,"y":72},{"g":55,"l":6,"x":170,"y":78},
{"g":56,"l":8,"x":175.3,"y":90.5},{"g":56,"l":8,"x":180.7,"y":89.2},{"g":56,"l":8,"x":198.6,"y":71},{"g":56,"l":8,"x":208,"y":74},{"g":56,"l":8,"x":215,"y":69.4},{"g":56,"l":8,"x":214.2,"y":64.3},{"g":56,"l":8,"x":207,"y":53.4},{"g":56,"l":8,"x":190.8,"y":55.9},{"g":56,"l":8,"x":181.5,"y":61},{"g":56,"l":8,"x":183,"y":66},{"g":56,"l":8,"x":194.7,"y":69.4},{"g":56,"l":8,"x":178,"y":88},
{"g":57,"l":9,"x":181.5,"y":88.8},{"g":57,"l":9,"x":199,"y":71},{"g":57,"l":9,"x":209.5,"y":71.5},{"g":57,"l":9,"x":212.6,"y":69.4},{"g":57,"l":9,"x":209.5,"y":67.7},{"g":57,"l":9,"x":201.7,"y":67.5},{"g":57,"l":9,"x":204.8,"y":55.9},{"g":57,"l":9,"x":192.4,"y":57.6},{"g":57,"l":9,"x":187,"y":61},{"g":57,"l":9,"x":196,"y":68},
{"g":58,"l":6,"x":184.6,"y":113.2},{"g":58,"l":6,"x":195,"y":108.5},{"g":58,"l":6,"x":206,"y":107},{"g":58,"l":6,"x":224,"y":93},{"g":58,"l":6,"x":238,"y":87},{"g":58,"l":6,"x":238,"y":82},{"g":58,"l":6,"x":229,"y":80},{"g":58,"l":6,"x":205,"y":90},{"g":58,"l":6,"x":196,"y":95},{"g":58,"l":6,"x":187,"y":103},
{"g":59,"l":7,"x":192.4,"y":107.3},{"g":59,"l":7,"x":199.4,"y":103},{"g":59,"l":7,"x":206,"y":106},{"g":59,"l":7,"x":222,"y":95.5},{"g":59,"l":7,"x":235,"y":88},{"g":59,"l":7,"x":230,"y":82},{"g":59,"l":7,"x":226,"y":85},{"g":59,"l":7,"x":205,"y":93},{"g":59,"l":7,"x":196,"y":97},{"g":59,"l":7,"x":190,"y":100},
{"g":60,"l":8,"x":203.3,"y":101.4},{"g":60,"l":8,"x":208,"y":103.5},{"g":60,"l":8,"x":220,"y":92},{"g":60,"l":8,"x":228.1,"y":90},{"g":60,"l":8,"x":223.5,"y":85.8},{"g":60,"l":8,"x":215,"y":89.6},{"g":60,"l":8,"x":205,"y":97},
{"g":61,"l":6,"x":229.7,"y":80.4},{"g":61,"l":6,"x":235.1,"y":80.4},{"g":61,"l":6,"x":239,"y":82},{"g":61,"l":6,"x":242.1,"y":88},{"g":61,"l":6,"x":259.2,"y":85.4},{"g":61,"l":6,"x":268.5,"y":80.4},{"g":61,"l":6,"x":249.9,"y":72},{"g":61,"l":6,"x":248.3,"y":64.3},{"g":61,"l":6,"x":239,"y":61.8},{"g":61,"l":6,"x":230,"y":69.4},
{"g":62,"l":7,"x":231.2,"y":78.7},{"g":62,"l":7,"x":240.6,"y":80.4},{"g":62,"l":7,"x":243.7,"y":85.8},{"g":62,"l":7,"x":258.4,"y":84.6},{"g":62,"l":7,"x":265.4,"y":80.4},{"g":62,"l":7,"x":250.7,"y":73.2},{"g":62,"l":7,"x":246.8,"y":74.5},{"g":62,"l":7,"x":247.6,"y":66},{"g":62,"l":7,"x":239.8,"y":63.5},{"g":62,"l":7,"x":231.2,"y":70.2},
{"g":63,"l":8,"x":242.9,"y":80.4},{"g":63,"l":8,"x":245.2,"y":83.7},{"g":63,"l":8,"x":257.7,"y":80},{"g":63,"l":8,"x":249.9,"y":76.1},
{"g":64,"l":9,"x":247.6,"y":80.4},{"g":64,"l":9,"x":249.9,"y":80.8},{"g":64,"l":9,"x":251.4,"y":80},{"g":64,"l":9,"x":249.6,"y":79.2},
{"g":65,"l":8,"x":235.1,"y":74.5},{"g":65,"l":8,"x":239.8,"y":76.6},{"g":65,"l":8,"x":243.7,"y":71.1},{"g":65,"l":8,"x":242.1,"y":66.4},{"g":65,"l":8,"x":237.5,"y":68.6},
{"g":66,"l":6,"x":265.4,"y":104.6},{"g":66,"l":6,"x":272.4,"y":111.5},{"g":66,"l":6,"x":281,"y":116.2},{"g":66,"l":6,"x":309,"y":117.9},{"g":66,"l":6,"x":312.8,"y":124.6},{"g":66,"l":6,"x":322.2,"y":128.4},{"g":66,"l":6,"x":330.7,"y":129.2},{"g":66,"l":6,"x":347.8,"y":131.8},{"g":66,"l":6,"x":354,"y":136},{"g":66,"l":6,"x":360,"y":135.1},{"g":66,"l":6,"x":360,"y":88},{"g":66,"l":6,"x":345,"y":93},{"g":66,"l":6,"x":337,"y":98},{"g":66,"l":6,"x":330.7,"y":96.3},{"g":66,"l":6,"x":328.4,"y":101},{"g":66,"l":6,"x":307.4,"y":102.7},{"g":66,"l":6,"x":293.4,"y":100.1},{"g":66,"l":6,"x":295,"y":94.2},{"g":66,"l":6,"x":284,"y":95.9},
{"g":67,"l":7,"x":273.2,"y":110.7},{"g":67,"l":7,"x":281,"y":114.9},{"g":67,"l":7,"x":309,"y":116.2},{"g":67,"l":7,"x":319.8,"y":118.7},{"g":67,"l":7,"x":328.4,"y":110.3},{"g":67,"l":7,"x":328.4,"y":101.4},{"g":67,"l":7,"x":312,"y":103.1},{"g":67,"l":7,"x":307.4,"y":104},{"g":67,"l":7,"x":289.5,"y":101.4},{"g":67,"l":7,"x":279.4,"y":102.3},{"g":67,"l":7,"x":274,"y":106.5},
{"g":68,"l":8,"x":279.4,"y":110},{"g":68,"l":8,"x":286.4,"y":114.5},{"g":68,"l":8,"x":299.6,"y":115.1},{"g":68,"l":8,"x":307.4,"y":112},{"g":68,"l":8,"x":318.3,"y":116.2},{"g":68,"l":8,"x":326,"y":109.9},{"g":68,"l":8,"x":326,"y":104},{"g":68,"l":8,"x":311.3,"y":108.2},{"g":68,"l":8,"x":303.5,"y":105.2},{"g":68,"l":8,"x":290.3,"y":104.4},
{"g":69,"l":9,"x":284.1,"y":110.3},{"g":69,"l":9,"x":288.7,"y":112.8},{"g":69,"l":9,"x":301.2,"y":112.8},{"g":69,"l":9,"x":307,"y":110.3},{"g":69,"l":9,"x":302,"y":107.3},{"g":69,"l":9,"x":289.5,"y":107.3},
{"g":70,"l":9,"x":312.8,"y":110.3},{"g":70,"l":9,"x":319,"y":113.2},{"g":70,"l":9,"x":323,"y":107.3},
{"g":71,"l":7,"x":322.9,"y":124.2},{"g":71,"l":7,"x":324.5,"y":126.3},{"g":71,"l":7,"x":348.6,"y":127.1},{"g":71,"l":7,"x":358.7,"y":111.5},{"g":71,"l":7,"x":349.4,"y":114.5},{"g":71,"l":7,"x":333.8,"y":115.8},{"g":71,"l":7,"x":328.4,"y":113.7},{"g":71,"l":7,"x":322.2,"y":120.4},
{"g":72,"l":8,"x":328.4,"y":120.8},{"g":72,"l":8,"x":338.5,"y":122.1},{"g":72,"l":8,"x":350.9,"y":120.4},{"g":72,"l":8,"x":350.1,"y":119.1},{"g":72,"l":8,"x":340.8,"y":118.7},{"g":72,"l":8,"x":329.1,"y":119.1},
{"g":73,"l":5,"x":329.1,"y":110.3},{"g":73,"l":5,"x":338.5,"y":115.8},{"g":73,"l":5,"x":354,"y":110.3},{"g":73,"l":5,"x":340,"y":103.5},
{"g":74,"l":4,"x":333,"y":110.3},{"g":74,"l":4,"x":340,"y":112.8},{"g":74,"l":4,"x":349.4,"y":110.3},{"g":74,"l":4,"x":340,"y":106},
{"g":75,"l":3,"x":337,"y":109.9},{"g":75,"l":3,"x":340,"y":111},{"g":75,"l":3,"x":343,"y":110},{"g":75,"l":3,"x":340,"y":108.3},
{"g":76,"l":7,"x":337,"y":101},{"g":76,"l":7,"x":360,"y":108.5},{"g":76,"l":7,"x":360,"y":93},{"g":76,"l":7,"x":350,"y":98},
{"g":77,"l":8,"x":348.6,"y":100.6},{"g":77,"l":8,"x":360,"y":103.5},{"g":77,"l":8,"x":360,"y":96},
{"g":78,"l":4,"x":304.3,"y":100.6},{"g":78,"l":4,"x":315.2,"y":101.9},{"g":78,"l":4,"x":324.5,"y":100.6},{"g":78,"l":4,"x":326.8,"y":93},{"g":78,"l":4,"x":315,"y":96},
{"g":79,"l":6,"x":301.2,"y":98.5},{"g":79,"l":6,"x":312,"y":96.8},{"g":79,"l":6,"x":324.5,"y":93},{"g":79,"l":6,"x":326.8,"y":88.8},{"g":79,"l":6,"x":322.2,"y":84.1},{"g":79,"l":6,"x":310.5,"y":83.3},{"g":79,"l":6,"x":301.2,"y":89.6},
{"g":80,"l":7,"x":302.7,"y":95.5},{"g":80,"l":7,"x":315.2,"y":93.8},{"g":80,"l":7,"x":322.2,"y":88.8},{"g":80,"l":7,"x":315.9,"y":85},{"g":80,"l":7,"x":309,"y":85.4},{"g":80,"l":7,"x":302,"y":90.5},
{"g":81,"l":8,"x":307.4,"y":92.2},{"g":81,"l":8,"x":313.6,"y":90.5},{"g":81,"l":8,"x":310.5,"y":88.8},{"g":81,"l":8,"x":307,"y":90.5},
{"g":82,"l":4,"x":312.8,"y":169.7},{"g":82,"l":4,"x":322.9,"y":176},{"g":82,"l":4,"x":337,"y":176.9},{"g":82,"l":4,"x":351,"y":178},{"g":82,"l":4,"x":360,"y":178.5},{"g":82,"l":4,"x":360,"y":161.5},{"g":82,"l":4,"x":345,"y":162.5},{"g":82,"l":4,"x":330.7,"y":164.5},{"g":82,"l":4,"x":322,"y":167},
{"g":83,"l":5,"x":325.3,"y":171.2},{"g":83,"l":5,"x":337,"y":175},{"g":83,"l":5,"x":350,"y":177.3},{"g":83,"l":5,"x":360,"y":177.5},{"g":83,"l":5,"x":360,"y":165},{"g":83,"l":5,"x":351,"y":164.2},{"g":83,"l":5,"x":340,"y":167},
{"g":84,"l":6,"x":335.3,"y":170.5},{"g":84,"l":6,"x":345.5,"y":175},{"g":84,"l":6,"x":351,"y":176.6},{"g":84,"l":6,"x":360,"y":176.5},{"g":84,"l":6,"x":360,"y":168},{"g":84,"l":6,"x":352,"y":166.3},{"g":84,"l":6,"x":346,"y":167.6},
{"g":85,"l":7,"x":342.4,"y":170.5},{"g":85,"l":7,"x":351.7,"y":175.4},{"g":85,"l":7,"x":360,"y":176},{"g":85,"l":7,"x":360,"y":170},{"g":85,"l":7,"x":358.6,"y":167.3},{"g":85,"l":7,"x":352.5,"y":167.6},
{"g":86,"l":8,"x":351,"y":170.5},{"g":86,"l":8,"x":355.6,"y":175.3},{"g":86,"l":8,"x":360,"y":175},{"g":86,"l":8,"x":360,"y":168},{"g":86,"l":8,"x":355,"y":168.5},
{"g":87,"l":9,"x":354,"y":170.5},{"g":87,"l":9,"x":356.4,"y":172.8},{"g":87,"l":9,"x":360,"y":172},{"g":87,"l":9,"x":360,"y":169.5}],
"dp":[{"x":6.2,"y":0},{"x":19.9,"y":0},{"x":33.9,"y":0},{"x":47.5,"y":0},{"x":61.2,"y":0},{"x":75,"y":0},{"x":88.7,"y":0},{"x":102.2,"y":0},{"x":116.2,"y":0},{"x":129.9,"y":0},{"x":143.7,"y":0},{"x":157.4,"y":0},{"x":171.1,"y":0},{"x":184.9,"y":0},{"x":198.6,"y":0},{"x":212.3,"y":0},{"x":226,"y":0},{"x":239.8,"y":0},{"x":253.5,"y":0},{"x":267.1,"y":0},{"x":281,"y":0},{"x":294.6,"y":0},{"x":308.5,"y":0},{"x":322.2,"y":0},{"x":335.8,"y":0},{"x":349.5,"y":0},{"x":360,"y":2},
{"x":15.2,"y":180},{"x":28.9,"y":180},{"x":43.5,"y":180},{"x":56.9,"y":178},{"x":70.4,"y":177.7},{"x":84.2,"y":180},{"x":98.2,"y":180},{"x":111.9,"y":177.7},{"x":125.6,"y":180},{"x":139.2,"y":180},{"x":153,"y":180},{"x":166.7,"y":180},{"x":180.4,"y":180},{"x":194.3,"y":180},{"x":208,"y":180},{"x":214.5,"y":180},{"x":221.5,"y":180},{"x":235.1,"y":180},{"x":248.8,"y":180},{"x":258.1,"y":179},{"x":276.3,"y":180},{"x":290.3,"y":180},{"x":304,"y":180},{"x":317.5,"y":180},{"x":331.5,"y":180},{"x":345,"y":180},
{"x":0,"y":178},{"x":0,"y":158.9},{"x":0,"y":151.4},{"x":0,"y":144},{"x":0,"y":136.8},{"x":0,"y":129.2},{"x":0,"y":121.7},{"x":0,"y":114.5},{"x":0,"y":106.9},{"x":0,"y":99.3},{"x":0,"y":92.2},{"x":0,"y":84.8},{"x":0,"y":69.8},{"x":0,"y":62},{"x":0,"y":54.6},{"x":0,"y":47.2},{"x":0,"y":39.7},{"x":0,"y":32.5},{"x":0,"y":24.9},{"x":0,"y":17.6},{"x":0,"y":10},
{"x":360,"y":158.1},{"x":360,"y":150.7},{"x":360,"y":143.2},{"x":360,"y":136},{"x":360,"y":128.4},{"x":360,"y":121.7},{"x":360,"y":106},{"x":360,"y":98.7},{"x":360,"y":76.3},{"x":360,"y":68.7},{"x":360,"y":61.4},{"x":360,"y":57.2},{"x":360,"y":53.8},{"x":360,"y":46.6},{"x":360,"y":39},{"x":360,"y":31.6},{"x":360,"y":24},{"x":360,"y":16.6},{"x":360,"y":9.3},
{"x":83.6,"y":173.3},{"x":96.3,"y":168.3},{"x":110.2,"y":166.2},{"x":122.1,"y":170},{"x":166.9,"y":144},{"x":154.6,"y":140.2},{"x":180.7,"y":141.7},{"x":161.1,"y":134.7},{"x":182.3,"y":132.9},{"x":175,"y":129.8},{"x":159,"y":110.3},{"x":148.9,"y":90.3},
{"x":227.4,"y":175.6},{"x":239.6,"y":171.6},{"x":245.2,"y":164},{"x":241.7,"y":159.6},{"x":228.6,"y":157.7},{"x":221.1,"y":154.3},{"x":221.9,"y":146.8},{"x":225.5,"y":139.4},{"x":236.5,"y":132},{"x":249.3,"y":126},{"x":262.5,"y":130.5},{"x":273.5,"y":134.7},{"x":287.3,"y":135.1},{"x":300.9,"y":138.3},{"x":301.3,"y":145.5},{"x":291.2,"y":148.7},{"x":296.4,"y":151.6},{"x":308.6,"y":154.5},{"x":310.8,"y":160.4},{"x":297,"y":164},{"x":283.3,"y":167.9},{"x":271.3,"y":173.6},{"x":191.9,"y":139.4},
{"x":46.3,"y":70.1},{"x":11.3,"y":54.2},{"x":22,"y":56.9},{"x":34.3,"y":54.1},{"x":48.2,"y":54.2},{"x":61.8,"y":53.8},{"x":75.4,"y":50.8},{"x":78,"y":45},{"x":75.7,"y":37.5},{"x":66.5,"y":32.3},{"x":73.5,"y":27.5},{"x":87.2,"y":26.5},{"x":101,"y":27.5},{"x":114.7,"y":31.8},{"x":128.2,"y":33.8},{"x":142,"y":34.6},{"x":153.8,"y":32.9},{"x":158.5,"y":25.5},{"x":161.3,"y":20.5},{"x":170.2,"y":21.2},{"x":183.8,"y":18.4},
{"x":69,"y":10.8},{"x":76.6,"y":11},{"x":76.6,"y":9},{"x":90.6,"y":11.6},{"x":90.6,"y":8.3},{"x":104.3,"y":12},{"x":104.3,"y":7.9},{"x":117.9,"y":12.7},{"x":117.9,"y":7.3},{"x":131.8,"y":11.5},{"x":131.8,"y":8.5},
{"x":267.8,"y":70.1},{"x":260.5,"y":63.7},{"x":255.5,"y":60.3},{"x":260.2,"y":56.7},{"x":197.8,"y":15.6},{"x":211.5,"y":14},{"x":225.2,"y":13.8},{"x":238.7,"y":14.6},{"x":251.1,"y":18},{"x":249.9,"y":24.9},{"x":251,"y":31.3},{"x":263.4,"y":35.1},{"x":271,"y":41},{"x":284.7,"y":42.3},{"x":298.5,"y":42.7},{"x":312.2,"y":42.8},{"x":322.6,"y":46.1},{"x":327.9,"y":53.3},{"x":326.5,"y":60.8},{"x":339.4,"y":62.5},{"x":350.1,"y":55.4}]
},"hconcat":[
{"width":770,"height":713,"title":{"text":"Axial ratio [dB], 3.2 GHz","fontSize":65,"font":"Liberation Serif","fontWeight":"normal","dx":-9,"dy":46,"offset":18,"color":"black"},"layer":[
{"data":{"name":"cb"},"mark":{"type":"line","strokeWidth":0,"clip":true},"encoding":{"x":{"field":"x","type":"quantitative","scale":{"domain":[0,360],"nice":false},"axis":{"values":[0,45,90,135,180,225,270,315,360],"labelExpr":"datum.value==0?'-180':datum.value==90?'90':datum.value==180?'180':datum.value==270?'270':datum.value==360?'180':''","tickSize":{"condition":{"test":"datum.value%90==0","value":13},"value":7},"labelPadding":6}},"y":{"field":"y","type":"quantitative","scale":{"domain":[0,180],"nice":false},"axis":{"values":[0,45,90,135,180],"labelExpr":"datum.value%90==0?datum.label:''","tickSize":{"condition":{"test":"datum.value%90==0","value":13},"value":7},"labelPadding":6}},"detail":{"field":"g"},"fill":{"field":"l","type":"ordinal","scale":{"domain":[0,1,2,3,4,5,6,7,8,9],"range":["#5050FF","#0000FF","#0080FF","#00FFFF","#00FF80","#00FF00","#FFFF00","#FF8000","#FF0000","#FF5050"]},"legend":null},"order":{"value":null}}},
{"data":{"name":"cs"},"mark":{"type":"line","stroke":"black","strokeWidth":2.5,"clip":true},"encoding":{"x":{"field":"x","type":"quantitative"},"y":{"field":"y","type":"quantitative"},"detail":{"field":"g"},"fill":{"field":"l","type":"ordinal","legend":null},"order":{"value":null}}},
{"data":{"name":"cp"},"mark":{"type":"point","filled":true,"color":"white","size":186,"opacity":1,"clip":true},"encoding":{"x":{"field":"x","type":"quantitative"},"y":{"field":"y","type":"quantitative"}}},
{"data":{"values":[{"a":1}]},"mark":{"type":"text","font":"Liberation Serif","fontSize":65,"fontStyle":"italic","align":"center","baseline":"alphabetic","angle":270},"encoding":{"x":{"datum":-59.4},"y":{"datum":63.2},"text":{"value":"θ"}}},
{"data":{"values":[{"a":1}]},"mark":{"type":"text","font":"Liberation Serif","fontSize":65,"align":"center","baseline":"alphabetic","angle":270},"encoding":{"x":{"datum":-59.4},"y":{"datum":85.7},"text":{"value":"[deg]"}}},
{"data":{"values":[{"a":1}]},"mark":{"type":"text","font":"Liberation Serif","fontSize":62,"fontStyle":"italic","align":"center","baseline":"alphabetic"},"encoding":{"x":{"datum":155},"y":{"datum":-37},"text":{"value":"ϕ"}}},
{"data":{"values":[{"a":1}]},"mark":{"type":"text","font":"Liberation Serif","fontSize":62,"align":"center","baseline":"alphabetic"},"encoding":{"x":{"datum":199.6},"y":{"datum":-37},"text":{"value":"[deg]"}}},
{"data":{"values":[{"a":1}]},"mark":{"type":"text","font":"Liberation Serif","fontSize":72,"fontWeight":"bold","align":"center","baseline":"alphabetic"},"encoding":{"x":{"datum":179},"y":{"datum":-70.5},"text":{"value":"(c)"}}}
],"resolve":{"scale":{"fill":"shared"}}},
{"width":95,"height":713,"data":{"values":[{"b":0,"t":1,"l":0},{"b":1,"t":2,"l":1},{"b":2,"t":3,"l":2},{"b":3,"t":4,"l":3},{"b":4,"t":5,"l":4},{"b":5,"t":6,"l":5},{"b":6,"t":7,"l":6},{"b":7,"t":8,"l":7},{"b":8,"t":9,"l":8},{"b":9,"t":10,"l":9}]},"mark":"rect","encoding":{"x":{"value":18},"x2":{"value":95},"y":{"field":"b","type":"quantitative","scale":{"domain":[-0.217,10.101],"nice":false},"axis":{"orient":"right","domain":false,"ticks":false,"values":[1,3,5,7,9],"labelExpr":"datum.value==1?'0.0':datum.value==3?'6.0':datum.value==5?'12':datum.value==7?'18':'30'","labelPadding":9,"labelAlign":"left"}},"y2":{"field":"t"},"fill":{"field":"l","type":"ordinal","scale":{"domain":[0,1,2,3,4,5,6,7,8,9],"range":["#5050FF","#0000FF","#0080FF","#00FFFF","#00FF80","#00FF00","#FFFF00","#FF8000","#FF0000","#FF5050"]},"legend":null}}},
{"width":364,"height":713,"data":{"values":[]},"mark":"point","encoding":{}},
{"width":772,"height":713,"title":{"text":"Axial ratio [dB], 3.6 GHz","fontSize":65,"font":"Liberation Serif","fontWeight":"normal","dx":-8,"dy":46,"offset":18,"color":"black"},"layer":[
{"data":{"name":"db"},"mark":{"type":"line","strokeWidth":0,"clip":true},"encoding":{"x":{"field":"x","type":"quantitative","scale":{"domain":[0,360],"nice":false},"axis":{"values":[0,45,90,135,180,225,270,315,360],"labelExpr":"datum.value==0?'-180':datum.value==90?'90':datum.value==180?'180':datum.value==270?'270':datum.value==360?'180':''","tickSize":{"condition":{"test":"datum.value%90==0","value":13},"value":7},"labelPadding":6}},"y":{"field":"y","type":"quantitative","scale":{"domain":[0,180],"nice":false},"axis":{"values":[0,45,90,135,180],"labelExpr":"datum.value%90==0?datum.label:''","tickSize":{"condition":{"test":"datum.value%90==0","value":13},"value":7},"labelPadding":6}},"detail":{"field":"g"},"fill":{"field":"l","type":"ordinal","scale":{"domain":[0,1,2,3,4,5,6,7,8,9],"range":["#5050FF","#0000FF","#0080FF","#00FFFF","#00FF80","#00FF00","#FFFF00","#FF8000","#FF0000","#FF5050"]},"legend":null},"order":{"value":null}}},
{"data":{"name":"ds"},"mark":{"type":"line","stroke":"black","strokeWidth":2.5,"clip":true},"encoding":{"x":{"field":"x","type":"quantitative"},"y":{"field":"y","type":"quantitative"},"detail":{"field":"g"},"fill":{"field":"l","type":"ordinal","legend":null},"order":{"value":null}}},
{"data":{"name":"dp"},"mark":{"type":"point","filled":true,"color":"white","size":186,"opacity":1,"clip":true},"encoding":{"x":{"field":"x","type":"quantitative"},"y":{"field":"y","type":"quantitative"}}},
{"data":{"values":[{"a":1}]},"mark":{"type":"text","font":"Liberation Serif","fontSize":65,"fontStyle":"italic","align":"center","baseline":"alphabetic","angle":270},"encoding":{"x":{"datum":-59.4},"y":{"datum":63.2},"text":{"value":"θ"}}},
{"data":{"values":[{"a":1}]},"mark":{"type":"text","font":"Liberation Serif","fontSize":65,"align":"center","baseline":"alphabetic","angle":270},"encoding":{"x":{"datum":-59.4},"y":{"datum":85.7},"text":{"value":"[deg]"}}},
{"data":{"values":[{"a":1}]},"mark":{"type":"text","font":"Liberation Serif","fontSize":62,"fontStyle":"italic","align":"center","baseline":"alphabetic"},"encoding":{"x":{"datum":154},"y":{"datum":-37},"text":{"value":"ϕ"}}},
{"data":{"values":[{"a":1}]},"mark":{"type":"text","font":"Liberation Serif","fontSize":62,"align":"center","baseline":"alphabetic"},"encoding":{"x":{"datum":200},"y":{"datum":-37},"text":{"value":"[deg]"}}},
{"data":{"values":[{"a":1}]},"mark":{"type":"text","font":"Liberation Serif","fontSize":72,"fontWeight":"bold","align":"center","baseline":"alphabetic"},"encoding":{"x":{"datum":179.5},"y":{"datum":-70.5},"text":{"value":"(d)"}}}
],"resolve":{"scale":{"fill":"shared"}}},
{"width":94,"height":713,"data":{"values":[{"b":0,"t":1,"l":0},{"b":1,"t":2,"l":1},{"b":2,"t":3,"l":2},{"b":3,"t":4,"l":3},{"b":4,"t":5,"l":4},{"b":5,"t":6,"l":5},{"b":6,"t":7,"l":6},{"b":7,"t":8,"l":7},{"b":8,"t":9,"l":8},{"b":9,"t":10,"l":9}]},"mark":"rect","encoding":{"x":{"value":17},"x2":{"value":94},"y":{"field":"b","type":"quantitative","scale":{"domain":[-0.234,10.175],"nice":false},"axis":{"orient":"right","domain":false,"ticks":false,"values":[1,3,5,7,9],"labelExpr":"datum.value==1?'0.0':datum.value==3?'6.0':datum.value==5?'12':datum.value==7?'18':'30'","labelPadding":9,"labelAlign":"left"}},"y2":{"field":"t"},"fill":{"field":"l","type":"ordinal","scale":{"domain":[0,1,2,3,4,5,6,7,8,9],"range":["#5050FF","#0000FF","#0080FF","#00FFFF","#00FF80","#00FF00","#FFFF00","#FF8000","#FF0000","#FF5050"]},"legend":null}}}
]}
